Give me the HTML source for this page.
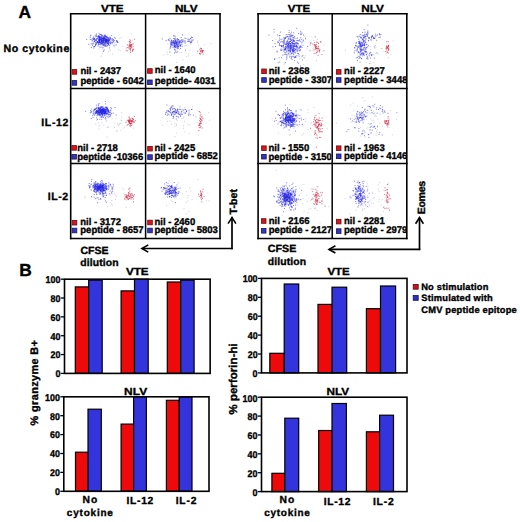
<!DOCTYPE html>
<html><head><meta charset="utf-8"><style>
html,body{margin:0;padding:0;background:#fff;width:520px;height:522px;overflow:hidden}
svg{display:block}
text{font-family:'Liberation Sans',sans-serif;font-weight:bold;fill:#000;stroke:#000;stroke-width:0.35px;text-rendering:geometricPrecision}
</style></head><body>
<svg width="520" height="522" viewBox="0 0 520 522">
<rect width="520" height="522" fill="#fff"/>
<path d="M101.2 41.0h1M104.4 38.4h1M99.2 42.3h1M98.6 39.9h1M106.8 43.4h1M98.4 39.9h1M96.4 39.6h1M104.7 40.5h1M108.4 40.5h1M98.4 40.7h1M101.2 38.7h1M101.3 41.4h1M93.2 47.9h1M112.3 40.3h1M117.0 41.4h1M109.4 36.9h1M103.2 42.2h1M90.7 44.0h1M92.9 38.0h1M102.8 44.8h1M99.0 34.8h1M103.6 38.6h1M105.1 39.2h1M104.6 36.9h1M105.3 44.9h1M86.2 39.4h1M105.6 41.4h1M113.8 40.5h1M104.7 42.8h1M98.4 40.2h1M101.1 41.7h1M101.4 39.5h1M116.2 40.9h1M104.6 35.4h1M95.6 44.3h1M102.5 37.0h1M110.2 42.8h1M98.0 44.7h1M88.3 44.3h1M105.2 46.3h1M99.4 36.7h1M105.3 41.8h1M106.5 40.4h1M104.7 43.2h1M94.6 39.7h1M102.5 40.8h1M98.0 40.7h1M93.2 36.9h1M108.2 43.2h1M92.7 43.8h1M108.3 40.0h1M102.5 47.6h1M107.6 41.4h1M98.9 42.0h1M98.8 37.1h1M102.0 44.2h1M100.0 38.0h1M108.4 42.5h1M105.0 45.2h1M103.0 42.5h1M106.4 39.1h1M99.9 44.7h1M98.7 36.1h1M103.5 38.4h1M96.6 42.0h1M93.8 40.1h1M100.4 39.9h1M95.2 44.4h1M112.2 42.3h1M99.5 37.7h1M97.3 41.5h1M101.4 37.0h1M101.9 41.6h1M94.0 46.7h1M98.0 36.6h1M103.4 40.5h1M98.7 39.4h1M98.8 42.0h1M94.1 46.4h1M100.1 34.4h1M106.7 42.2h1M102.4 39.9h1M103.0 42.1h1M103.9 38.7h1M101.1 41.0h1M107.7 43.5h1M103.5 37.9h1M101.2 41.6h1M104.9 42.0h1M104.2 45.0h1M91.0 47.6h1M99.4 47.1h1M108.5 43.2h1M93.2 39.1h1M95.5 42.8h1M102.6 39.0h1M93.8 39.7h1M102.7 38.9h1M100.8 41.1h1M95.4 35.0h1M95.0 45.4h1M101.4 40.3h1M100.1 40.9h1M97.6 46.1h1M107.7 44.0h1M104.8 41.4h1M104.7 40.4h1M108.9 47.9h1M100.4 42.9h1M108.1 43.2h1M106.1 41.7h1M103.8 46.2h1M106.4 44.7h1M103.0 51.3h1M116.3 40.7h1M108.5 38.5h1M110.2 39.0h1M107.5 45.5h1M102.6 40.4h1M105.7 46.3h1M102.9 36.6h1M105.6 42.7h1M103.6 50.1h1M102.9 44.0h1M98.5 36.2h1M93.6 38.8h1M111.2 35.6h1M103.2 41.3h1M113.8 37.4h1M97.7 43.1h1M99.4 37.6h1M105.7 42.5h1M99.3 44.7h1M106.8 45.6h1M108.1 40.3h1M93.9 38.6h1M104.6 36.4h1M92.0 40.0h1M116.8 42.3h1M109.8 38.0h1M104.6 45.3h1M108.2 41.5h1M103.7 45.0h1M102.0 42.3h1M103.3 38.4h1M100.9 40.6h1M91.8 38.3h1M103.2 38.0h1M108.0 44.2h1M100.2 43.3h1M103.6 44.0h1M99.4 37.7h1M95.8 36.4h1M105.0 36.9h1M109.4 40.8h1M93.0 39.4h1M111.6 40.1h1M105.2 39.9h1M93.3 43.0h1M100.7 34.6h1M101.4 43.6h1M96.6 42.4h1M107.2 42.7h1M95.5 36.4h1M103.1 45.4h1M102.0 38.9h1M105.7 41.1h1M96.0 34.1h1M97.9 42.5h1M98.2 38.6h1M106.6 41.5h1M96.4 38.5h1M98.4 43.4h1M109.0 45.3h1M95.2 44.2h1M89.7 37.6h1M103.0 39.1h1M101.1 40.9h1M102.1 38.4h1M106.5 40.6h1M94.7 40.4h1M106.0 37.0h1M106.1 38.9h1M105.3 42.1h1M111.5 42.5h1M97.9 35.6h1M102.6 39.1h1M110.5 42.9h1M107.7 41.0h1M94.2 38.1h1M90.5 35.2h1M107.4 40.5h1M101.5 41.4h1M106.9 43.4h1M99.1 38.8h1M109.8 43.9h1M98.5 37.3h1M104.6 42.6h1M100.6 47.2h1M103.8 40.4h1M114.8 38.3h1M103.2 38.5h1M113.2 39.9h1M103.1 41.5h1M96.0 43.7h1M117.5 42.5h1M98.5 37.2h1M99.0 40.8h1M101.9 35.4h1M113.3 41.9h1M93.1 46.6h1M99.6 42.6h1M103.9 43.6h1M105.4 41.7h1M94.1 41.3h1M98.9 40.1h1M105.5 41.2h1M104.8 39.8h1M98.8 36.9h1M90.0 35.9h1M101.7 45.9h1M96.0 40.3h1M98.6 42.0h1M113.4 45.5h1M99.6 39.2h1M103.3 38.8h1M97.6 37.0h1M103.9 37.6h1M111.6 39.6h1M99.0 41.2h1M101.8 42.5h1M90.7 39.7h1M101.6 36.1h1M97.4 41.9h1M105.1 36.2h1M97.8 37.1h1M104.1 36.6h1M101.5 44.0h1M100.1 43.3h1M110.0 37.9h1M96.8 38.3h1M99.0 40.9h1M93.7 41.3h1M97.6 43.9h1M115.9 41.1h1M115.5 44.9h1M105.2 35.1h1M103.4 38.7h1M108.1 44.4h1M103.4 39.5h1M117.2 41.9h1M106.1 39.5h1M104.5 38.4h1M102.6 40.4h1M98.5 39.2h1M101.1 40.2h1M100.3 39.5h1M99.7 41.2h1M99.3 42.0h1M98.7 44.0h1M97.2 36.7h1M89.8 39.5h1M99.0 41.7h1M99.7 37.9h1M107.7 39.6h1M107.8 41.2h1M109.0 40.0h1M104.7 38.0h1M100.1 39.9h1M102.9 42.3h1M97.4 42.4h1M93.5 38.9h1M102.3 43.4h1M105.2 41.1h1M92.1 45.3h1M104.4 44.0h1M110.4 41.4h1M97.0 42.1h1M98.1 42.4h1M98.6 41.9h1M98.6 33.3h1M107.0 39.2h1M112.8 41.5h1M94.3 41.6h1M95.6 35.6h1M95.3 40.2h1M103.2 41.5h1M103.9 42.5h1M109.6 39.4h1M107.4 41.4h1M91.8 43.8h1M95.2 42.8h1M101.5 43.7h1M111.7 43.8h1M91.8 40.9h1M99.6 40.1h1M101.3 43.7h1M103.2 37.9h1M113.0 39.8h1M99.2 36.9h1M102.5 38.5h1M108.6 42.1h1M95.7 41.1h1M103.0 37.7h1M99.1 41.2h1M103.6 41.7h1M101.0 43.0h1M104.9 39.7h1M106.4 40.3h1M102.1 38.2h1M104.0 35.3h1M101.1 37.7h1M106.1 41.9h1M102.0 39.1h1M108.3 40.4h1M108.1 39.9h1M105.5 43.5h1M102.3 41.5h1M105.7 37.1h1M109.5 38.4h1M105.8 40.0h1M101.5 39.3h1M106.6 37.6h1M103.8 35.7h1M101.3 35.5h1M101.8 40.2h1M95.7 39.5h1M101.4 39.0h1M104.9 40.6h1M107.1 42.0h1M101.9 41.7h1M106.3 39.8h1M101.8 38.6h1M101.0 41.2h1M102.0 40.3h1M100.9 38.2h1M110.1 43.1h1M106.1 39.9h1M100.5 42.6h1M99.4 39.9h1M104.0 37.0h1M103.1 42.1h1M106.0 36.5h1M107.3 37.6h1M103.1 39.7h1M100.2 42.1h1M103.6 40.6h1M99.0 38.3h1M108.7 39.9h1M102.7 40.1h1M100.6 36.6h1M99.4 39.7h1M105.9 40.9h1M98.7 38.2h1M100.8 43.0h1M100.0 38.8h1M105.0 42.6h1M105.7 41.4h1M108.4 37.6h1M105.5 39.6h1M106.5 38.9h1M107.0 43.3h1M111.7 38.5h1M102.1 41.0h1M108.0 38.7h1M108.1 38.7h1M108.7 39.7h1M106.6 36.3h1M97.0 41.7h1M96.5 42.4h1M99.1 39.3h1M106.4 40.1h1M103.4 40.3h1M102.5 41.3h1M105.4 40.9h1M104.9 39.0h1M100.4 34.7h1M108.5 40.2h1M104.9 40.9h1M101.0 43.8h1M104.5 39.4h1M103.8 39.3h1M95.2 45.8h1M104.6 39.4h1M100.4 39.2h1M100.6 36.8h1M96.6 38.5h1M105.0 39.3h1M105.5 40.4h1M98.6 39.9h1M106.7 37.7h1M101.0 38.0h1M101.7 38.5h1M100.3 37.1h1M106.7 37.8h1M102.9 39.4h1M101.8 41.8h1M102.8 41.1h1M99.2 42.4h1M102.7 44.2h1M106.8 40.1h1M102.5 37.0h1M105.1 40.1h1M107.2 41.0h1M106.2 41.0h1M103.2 40.8h1M101.1 41.4h1M100.9 39.2h1M106.1 40.7h1M103.4 39.9h1" stroke="rgb(40,40,230)" stroke-opacity="0.6" stroke-width="1" fill="none"/>
<path d="M129.6 46.4h1M130.8 45.0h1M129.2 46.2h1M126.9 44.9h1M132.7 43.8h1M130.2 46.3h1M130.2 45.6h1M134.1 39.2h1M129.5 42.5h1M129.9 45.2h1M130.5 45.5h1M130.1 48.9h1M129.3 43.7h1M128.4 48.8h1M130.1 40.8h1M130.8 44.5h1M130.8 46.9h1M132.2 49.8h1M132.6 49.0h1M132.7 46.6h1M130.0 50.8h1M130.2 42.1h1M130.3 46.8h1M127.1 50.9h1M128.6 47.0h1M126.7 47.5h1M130.2 48.0h1M131.6 45.0h1M128.5 47.4h1M130.1 52.5h1M130.4 44.3h1M129.4 39.9h1M125.6 50.7h1M132.9 49.6h1M130.8 44.7h1M129.8 48.9h1M132.1 50.6h1M129.0 41.5h1M129.1 44.7h1M131.2 47.7h1M130.1 45.9h1M128.4 45.9h1M129.6 49.1h1M129.1 45.5h1M131.9 51.4h1" stroke="rgb(205,45,70)" stroke-opacity="0.72" stroke-width="1" fill="none"/>
<path d="M112.3 40.3h1M112.1 54.0h1M128.1 41.6h1M98.7 49.0h1M102.0 53.3h1M109.7 45.8h1M102.7 35.2h1M106.1 46.3h1M109.8 49.7h1M120.7 37.7h1M109.5 50.9h1M119.6 50.6h1M128.6 44.5h1M115.6 45.1h1M131.7 40.0h1M114.0 43.1h1M130.8 33.8h1M111.3 38.8h1M100.7 56.3h1M104.8 42.9h1M113.6 46.6h1M109.5 41.2h1M117.8 49.8h1M93.2 48.7h1M106.8 46.5h1M119.1 38.1h1M91.5 42.3h1M103.8 49.3h1M126.5 49.1h1M94.5 35.9h1M122.3 46.3h1M102.4 48.4h1M129.7 49.0h1M125.8 48.3h1M108.0 51.8h1M115.5 42.5h1M104.1 45.7h1M102.3 41.2h1M109.8 43.7h1M102.1 39.5h1" stroke="rgb(150,150,175)" stroke-opacity="0.45" stroke-width="1" fill="none"/>
<path d="M181.7 46.4h1M177.7 39.6h1M175.3 40.1h1M176.0 42.4h1M174.2 35.9h1M178.5 44.8h1M176.1 42.9h1M168.5 40.5h1M174.3 44.8h1M173.4 38.4h1M178.6 42.0h1M179.8 45.0h1M173.6 46.2h1M173.0 35.8h1M172.9 42.4h1M170.7 42.4h1M174.5 41.3h1M173.6 42.7h1M175.1 43.0h1M172.7 42.4h1M174.0 45.6h1M174.5 45.0h1M173.2 45.7h1M176.5 42.7h1M174.9 43.7h1M179.0 41.1h1M175.3 41.8h1M170.3 44.0h1M169.7 41.8h1M176.7 48.4h1M171.0 40.8h1M171.7 41.3h1M176.3 43.3h1M173.3 43.0h1M172.9 41.9h1M173.3 40.5h1M173.2 41.2h1M177.6 46.0h1M175.4 41.5h1M180.4 44.7h1M174.6 38.6h1M175.3 40.5h1M179.7 42.0h1M174.8 36.9h1M177.7 41.5h1M178.3 44.5h1M173.9 43.0h1M172.3 47.2h1M169.6 38.4h1M174.6 41.3h1M174.3 42.2h1M176.2 41.6h1M175.4 42.9h1M174.4 41.8h1M178.1 39.7h1M170.7 42.4h1M175.0 45.5h1M176.3 45.2h1M177.3 46.0h1M171.7 42.9h1M170.3 47.9h1M182.4 41.4h1M173.7 43.7h1M177.6 47.7h1M173.5 44.1h1M176.5 42.7h1M171.6 41.8h1M176.4 45.1h1M175.4 39.9h1M174.8 42.7h1M177.0 44.9h1M172.6 40.8h1M173.6 47.6h1M177.1 40.2h1M177.8 46.4h1M170.7 40.0h1M174.2 39.7h1M170.2 45.9h1M181.1 40.7h1M173.8 44.6h1M176.1 46.8h1M176.7 42.8h1M170.9 43.7h1M171.2 44.4h1M171.8 45.3h1M179.6 42.8h1M177.6 42.6h1M175.7 44.5h1M175.1 47.5h1M175.1 46.3h1M180.7 42.4h1M176.8 51.8h1M177.9 43.6h1M182.0 34.9h1M174.6 46.8h1M177.3 46.3h1M176.7 39.4h1M174.3 46.7h1M190.1 38.5h1M174.3 46.0h1M174.9 50.1h1M178.7 42.5h1M179.6 46.2h1M180.7 37.6h1M181.0 43.0h1M177.5 44.1h1M177.7 40.2h1M178.0 46.6h1M185.0 50.1h1M170.6 44.6h1M177.9 48.3h1M175.7 52.7h1M181.3 39.7h1M168.6 39.8h1M180.1 46.0h1M182.5 39.8h1M174.0 46.7h1M176.1 43.6h1M179.0 43.2h1M177.0 41.3h1M170.0 43.9h1M177.6 46.7h1M176.3 43.8h1M169.5 48.0h1M177.0 47.8h1M171.3 45.7h1M176.3 44.7h1M169.3 52.0h1M171.2 40.7h1M173.8 49.1h1M180.1 48.5h1M174.1 43.2h1M171.5 42.8h1M181.5 44.7h1M176.7 45.4h1M173.5 38.5h1M170.0 46.4h1M179.4 41.4h1M165.6 40.5h1M175.4 47.7h1M171.3 43.1h1M167.8 39.6h1M179.6 41.2h1M174.2 49.8h1M174.8 40.3h1M172.5 44.0h1M172.6 42.6h1M179.5 45.4h1M179.6 45.8h1M174.0 46.2h1M183.7 41.9h1M175.2 51.9h1M175.1 43.4h1M173.9 43.5h1M174.0 53.0h1M161.8 39.0h1M171.8 44.1h1M176.5 46.5h1M176.9 38.5h1M179.7 40.7h1M191.9 37.5h1M191.3 41.4h1M189.3 41.3h1M189.9 42.2h1M187.2 41.4h1M185.5 38.5h1M191.0 37.2h1M184.3 38.1h1M184.9 43.0h1M182.1 41.0h1M181.5 42.1h1M184.9 41.1h1M190.1 42.8h1M187.8 39.9h1M188.2 41.5h1M189.1 39.3h1M190.6 40.1h1M191.1 42.3h1M190.5 42.2h1M192.6 40.0h1M187.6 39.1h1M188.6 41.1h1M190.5 38.1h1M183.6 40.8h1M178.7 42.4h1" stroke="rgb(40,40,230)" stroke-opacity="0.6" stroke-width="1" fill="none"/>
<path d="M202.5 54.1h1M202.1 52.3h1M202.9 50.7h1M199.2 53.5h1M202.1 51.2h1M201.3 50.0h1M200.5 48.5h1M202.2 51.0h1M199.7 54.7h1M200.7 50.6h1M199.3 53.3h1M200.0 51.6h1M201.1 51.9h1M201.7 51.4h1M201.8 50.7h1M199.8 50.8h1M202.0 50.5h1M199.8 48.2h1M199.4 49.5h1M197.3 51.2h1M200.6 53.1h1M201.0 48.6h1" stroke="rgb(205,45,70)" stroke-opacity="0.72" stroke-width="1" fill="none"/>
<path d="M185.8 45.2h1M182.4 60.0h1M190.6 43.7h1M177.4 51.3h1M188.2 53.9h1M191.9 40.3h1M192.2 40.4h1M179.4 40.0h1M187.7 55.9h1M181.0 52.2h1M176.0 62.4h1M210.5 43.7h1M177.3 46.4h1M179.4 52.4h1M204.4 44.7h1M187.8 39.8h1M168.8 49.1h1M197.2 40.9h1M197.9 44.9h1M192.3 39.9h1M167.3 44.0h1M166.8 52.4h1M183.7 67.0h1M184.2 43.4h1M181.7 42.7h1M189.4 50.1h1M162.8 54.9h1M186.0 56.7h1M179.3 49.6h1M182.1 42.4h1M203.7 51.8h1M185.2 45.8h1M176.6 49.8h1M180.2 42.9h1M184.0 46.0h1M197.1 42.5h1M170.2 55.7h1M184.5 41.9h1M197.1 53.3h1M167.1 54.4h1" stroke="rgb(150,150,175)" stroke-opacity="0.45" stroke-width="1" fill="none"/>
<path d="M107.6 117.1h1M103.6 110.3h1M101.2 116.4h1M100.1 115.6h1M96.1 111.2h1M104.7 113.9h1M105.2 106.8h1M108.3 115.1h1M107.0 109.1h1M108.6 111.2h1M96.0 112.5h1M94.5 109.4h1M104.6 112.0h1M96.2 117.9h1M99.7 109.4h1M99.7 111.5h1M102.4 112.8h1M103.2 110.6h1M98.1 114.0h1M100.8 110.8h1M104.9 112.2h1M96.8 110.6h1M105.5 113.3h1M100.7 117.1h1M101.2 111.4h1M102.8 110.7h1M96.8 113.8h1M104.1 112.4h1M101.1 107.1h1M105.0 103.9h1M105.1 110.4h1M97.0 108.0h1M102.8 117.4h1M107.7 109.9h1M102.4 109.5h1M104.3 109.7h1M99.1 115.8h1M96.8 109.6h1M106.0 107.5h1M90.2 110.6h1M97.1 113.7h1M106.2 111.8h1M108.7 116.9h1M99.7 109.3h1M104.4 107.6h1M95.0 113.0h1M108.0 111.0h1M106.2 114.2h1M96.9 119.5h1M96.4 113.1h1M102.4 106.6h1M108.8 114.5h1M108.1 110.5h1M99.3 119.2h1M107.4 113.6h1M103.8 115.9h1M92.3 115.6h1M107.0 113.7h1M100.9 113.5h1M106.0 108.3h1M97.5 115.0h1M99.7 112.3h1M100.8 112.7h1M110.2 115.9h1M102.4 109.4h1M112.8 113.1h1M105.2 113.1h1M105.7 108.7h1M92.6 113.8h1M107.8 110.1h1M103.3 111.5h1M93.2 111.2h1M105.1 109.1h1M98.4 110.0h1M100.6 107.8h1M108.2 111.9h1M105.0 117.4h1M98.7 112.4h1M107.8 111.3h1M103.3 113.9h1M101.2 119.3h1M102.1 111.2h1M100.0 109.2h1M93.1 113.8h1M100.3 114.5h1M110.3 109.9h1M105.9 107.5h1M110.4 110.9h1M101.4 109.3h1M97.9 104.7h1M93.6 109.6h1M104.3 115.3h1M92.8 110.8h1M97.5 111.6h1M107.8 111.9h1M109.3 116.4h1M92.5 117.6h1M110.6 113.3h1M97.8 107.3h1M107.8 113.0h1M96.9 111.8h1M107.9 114.5h1M90.8 118.6h1M102.0 115.2h1M99.9 110.5h1M102.9 113.2h1M107.1 107.6h1M104.8 113.9h1M100.5 111.0h1M104.8 112.9h1M102.2 109.6h1M101.4 110.1h1M96.0 108.3h1M99.3 110.4h1M97.4 112.4h1M99.3 114.5h1M104.5 111.0h1M93.9 115.2h1M109.9 114.9h1M107.8 109.7h1M106.9 110.6h1M104.8 101.6h1M95.5 111.9h1M109.6 110.8h1M96.0 111.8h1M98.5 103.5h1M95.4 111.7h1M99.9 111.9h1M105.4 107.5h1M95.6 108.3h1M103.6 108.9h1M97.8 110.9h1M94.0 110.2h1M98.2 111.1h1M101.2 112.9h1M95.2 113.8h1M96.5 115.6h1M96.9 114.3h1M103.5 115.8h1M102.3 114.2h1M94.4 113.8h1M97.6 111.7h1M93.8 109.6h1M102.1 113.6h1M104.9 109.9h1M95.6 110.4h1M96.7 111.7h1M106.5 116.2h1M95.9 105.1h1M90.8 111.8h1M85.2 111.3h1M103.8 114.4h1M102.2 108.7h1M90.9 109.1h1M102.0 113.2h1M109.1 112.7h1M105.3 111.3h1M95.7 111.7h1M91.3 111.9h1M107.0 109.4h1M89.7 112.8h1M97.1 112.8h1M93.5 112.4h1M102.4 117.3h1M100.1 112.8h1M97.8 105.6h1M114.6 107.5h1M115.7 115.0h1M110.9 108.3h1M109.7 112.5h1M105.3 118.6h1M101.2 113.1h1M94.3 109.2h1M96.0 111.2h1M109.5 114.4h1M108.7 112.4h1M106.5 114.2h1M97.9 110.7h1M101.6 109.5h1M105.2 109.7h1M99.2 108.7h1M100.5 113.2h1M100.1 111.3h1M96.0 112.5h1M100.4 114.3h1M90.2 112.2h1M102.8 109.4h1M95.1 109.3h1M100.2 107.6h1M104.3 112.8h1M102.5 109.6h1M99.8 111.5h1M97.5 110.6h1M102.4 112.2h1M102.0 115.9h1M101.5 111.2h1M96.5 111.7h1M94.8 108.7h1M105.1 113.3h1M107.0 108.7h1M104.0 113.5h1M100.8 112.2h1M98.7 112.7h1M98.3 107.8h1M100.6 117.2h1M98.9 113.4h1M99.2 112.6h1M100.0 108.3h1M102.6 111.5h1M100.4 112.7h1M94.7 112.9h1M101.3 112.7h1M99.4 112.1h1M98.7 112.6h1M106.1 113.5h1M98.4 108.8h1M100.1 111.8h1M101.7 107.2h1M106.0 109.3h1M103.9 112.5h1M101.7 110.8h1M101.3 113.2h1M102.2 110.9h1M101.3 114.1h1M104.7 111.4h1M101.7 109.1h1M101.9 109.8h1M101.6 110.2h1M98.1 108.7h1M104.4 111.9h1M98.8 114.9h1M105.0 112.2h1M103.4 111.3h1M103.2 111.1h1M98.6 110.7h1M100.9 109.8h1M95.7 112.0h1M105.5 114.9h1M103.6 112.0h1M102.6 113.8h1M100.7 113.4h1M104.5 111.9h1M103.6 111.3h1M99.8 109.2h1M101.3 111.4h1M102.1 110.4h1M101.0 109.4h1M103.0 110.6h1M101.4 111.8h1M106.1 110.2h1M101.0 112.3h1M104.3 110.1h1M104.5 112.9h1M98.1 114.1h1M107.1 112.6h1M102.9 110.8h1M99.8 108.4h1M102.3 107.3h1M97.5 111.9h1M99.1 110.2h1M104.7 113.2h1M99.1 111.0h1M101.1 107.2h1M98.9 111.2h1M96.8 111.1h1M100.1 114.8h1M99.3 108.7h1M101.0 110.9h1M98.1 108.1h1M99.0 108.0h1M104.2 113.0h1M100.4 106.6h1M103.9 112.0h1M102.2 112.8h1M100.0 109.7h1M106.3 109.9h1M99.7 107.2h1M102.5 110.9h1M97.9 112.6h1M100.9 107.0h1M103.0 113.5h1M103.7 110.5h1M105.2 111.9h1M102.4 111.8h1M98.4 113.1h1M98.1 108.2h1M101.5 112.9h1M102.9 110.9h1M100.6 110.7h1M102.1 110.3h1M103.4 109.9h1M106.1 110.1h1M102.3 110.0h1M99.8 108.7h1M98.7 112.8h1M96.0 110.4h1M107.9 111.3h1M100.5 111.3h1M96.2 107.3h1M102.4 112.4h1M102.5 112.1h1M99.9 111.2h1M107.1 108.5h1M104.7 109.5h1M97.5 112.2h1M98.6 112.7h1M105.7 112.3h1M99.9 110.8h1M103.5 113.2h1M110.2 107.6h1M101.3 109.6h1M98.5 115.3h1M101.5 114.0h1M101.5 109.7h1M104.2 110.6h1M107.0 111.1h1M97.9 110.8h1M106.9 108.8h1M104.7 111.8h1M105.3 111.4h1M101.1 109.4h1M100.2 110.8h1M102.8 113.0h1M101.8 114.5h1M102.5 109.6h1M103.6 109.7h1M104.5 108.6h1M96.5 111.3h1M102.5 109.9h1M104.4 110.2h1M111.2 113.7h1M106.7 111.2h1M102.5 111.4h1M103.0 108.3h1M106.4 107.1h1M97.9 108.7h1M99.8 112.8h1M100.0 110.2h1M98.3 107.9h1M95.6 112.7h1M102.2 109.8h1M104.5 112.0h1M98.5 109.8h1M104.6 113.9h1M100.7 113.1h1M105.8 113.3h1M102.0 112.6h1M104.3 110.2h1M102.4 110.7h1M97.4 111.2h1M101.0 109.2h1M103.9 113.5h1M104.0 110.2h1M98.1 112.9h1M99.2 113.6h1M100.3 111.9h1M100.9 111.4h1M105.0 112.3h1M98.9 114.3h1M104.8 111.9h1M98.7 109.7h1M98.9 109.5h1M104.2 111.0h1M100.7 111.3h1M102.4 108.8h1M103.5 111.1h1M99.5 110.9h1M95.6 113.5h1M102.2 112.4h1M99.9 112.2h1M102.6 108.2h1M101.5 115.1h1M102.1 112.0h1M104.0 113.6h1M102.7 108.2h1M103.7 113.0h1M103.9 108.7h1M102.2 110.2h1M102.6 110.1h1M105.6 111.7h1" stroke="rgb(40,40,230)" stroke-opacity="0.6" stroke-width="1" fill="none"/>
<path d="M128.5 119.2h1M128.9 121.9h1M128.1 120.7h1M131.4 121.8h1M127.8 124.3h1M134.9 120.7h1M128.5 120.9h1M132.0 118.6h1M131.3 121.4h1M132.4 121.8h1M129.2 120.5h1M130.9 121.2h1M128.5 116.9h1M130.4 120.3h1M133.4 121.2h1M133.2 121.7h1M131.2 121.3h1M130.3 123.5h1M128.9 122.0h1M132.8 119.3h1M129.2 123.3h1M130.8 123.0h1M129.8 123.8h1M129.8 121.0h1M126.9 120.3h1M130.1 125.0h1M129.7 126.7h1M128.3 121.8h1M131.9 120.5h1M129.1 122.8h1M131.2 123.1h1M133.6 122.5h1M132.8 119.2h1M128.3 122.0h1M129.8 123.0h1M129.6 123.7h1M128.8 121.8h1M127.9 121.4h1M131.5 124.1h1M132.5 119.6h1M128.7 121.4h1M129.7 120.1h1M130.8 120.3h1M131.1 125.5h1M130.4 123.6h1M129.4 119.7h1M126.9 124.9h1M133.8 116.5h1M128.4 121.0h1M128.4 120.5h1M131.4 121.4h1M131.5 118.2h1M129.4 125.7h1M128.9 118.0h1M129.0 121.7h1M125.5 122.4h1M131.3 120.7h1M129.7 121.4h1M129.6 118.8h1M128.9 123.0h1" stroke="rgb(205,45,70)" stroke-opacity="0.72" stroke-width="1" fill="none"/>
<path d="M117.7 125.8h1M98.6 126.3h1M120.5 130.4h1M117.5 124.2h1M108.4 127.0h1M121.3 112.6h1M99.3 124.8h1M121.2 117.0h1M94.1 114.8h1M124.4 127.0h1M106.5 137.0h1M132.9 128.1h1M113.6 123.1h1M120.7 120.1h1M120.9 120.7h1M120.4 123.4h1M116.0 130.6h1M119.1 123.4h1M106.3 120.4h1M98.5 129.0h1M111.7 118.2h1M125.8 120.9h1M126.2 125.5h1M118.7 124.8h1M98.0 122.9h1M105.2 119.3h1M115.6 118.1h1M96.2 120.2h1M95.2 123.9h1M116.8 124.1h1M106.7 127.3h1M116.6 131.2h1M103.3 125.1h1M105.8 121.4h1M107.5 127.2h1M103.8 118.7h1M128.7 124.7h1M114.0 127.5h1M122.9 128.1h1M101.4 122.7h1" stroke="rgb(150,150,175)" stroke-opacity="0.45" stroke-width="1" fill="none"/>
<path d="M177.3 113.3h1M178.1 117.1h1M169.3 111.9h1M170.1 110.4h1M172.5 113.0h1M174.9 109.7h1M173.2 111.8h1M170.1 112.7h1M167.7 111.3h1M173.3 117.2h1M173.0 111.7h1M176.9 110.3h1M172.5 118.4h1M178.3 114.5h1M177.2 109.8h1M177.2 111.7h1M174.5 112.5h1M174.6 111.4h1M166.4 105.0h1M166.2 111.8h1M170.5 107.5h1M177.9 113.5h1M169.9 108.7h1M175.7 112.5h1M168.3 111.5h1M166.7 115.4h1M172.0 112.6h1M169.5 108.7h1M172.1 109.6h1M166.2 112.8h1M171.7 108.4h1M174.2 111.7h1M171.2 107.3h1M172.5 106.1h1M168.4 114.9h1M174.1 108.4h1M169.2 111.9h1M175.9 112.2h1M172.5 114.2h1M177.5 109.1h1M171.1 114.6h1M174.8 109.2h1M165.0 114.4h1M171.8 112.3h1M171.1 114.3h1M176.6 116.4h1M167.9 110.6h1M175.7 112.1h1M172.6 116.5h1M173.1 108.6h1M179.8 115.3h1M173.6 113.9h1M175.3 112.8h1M176.0 112.5h1M175.8 119.0h1M172.2 105.8h1M179.1 114.6h1M170.7 113.3h1M167.4 114.1h1M164.9 112.9h1M178.3 112.1h1M175.0 114.0h1M166.6 110.5h1M179.5 113.7h1M181.8 114.1h1M171.8 111.8h1M170.8 106.2h1M172.8 116.2h1M169.9 109.6h1M171.0 115.4h1M177.7 111.8h1M175.9 116.3h1M173.5 111.7h1M176.3 110.8h1M174.1 114.8h1M180.0 116.3h1M175.2 110.5h1M176.2 113.0h1M180.6 114.0h1M173.7 111.1h1M185.1 112.9h1M180.2 109.7h1M179.5 106.8h1M188.6 110.3h1M183.5 112.3h1M181.7 109.8h1M184.6 109.4h1M181.4 114.4h1M188.2 114.1h1M179.1 109.3h1M189.7 114.7h1M181.1 112.0h1M192.9 115.1h1M184.8 109.7h1M176.9 109.2h1M186.0 111.6h1M184.5 113.6h1M191.3 109.7h1M186.0 111.5h1M185.9 110.4h1M188.2 115.3h1M183.0 110.1h1M191.2 109.4h1M188.7 112.1h1M181.3 111.6h1" stroke="rgb(40,40,230)" stroke-opacity="0.6" stroke-width="1" fill="none"/>
<path d="M199.4 124.2h1M200.3 121.7h1M200.0 123.3h1M200.4 114.2h1M199.5 125.6h1M199.6 127.7h1M199.1 120.7h1M199.7 115.7h1M202.4 118.4h1M199.7 112.3h1M200.0 118.6h1M200.6 123.5h1M201.5 120.8h1M200.0 121.6h1M200.0 119.4h1M199.4 127.6h1M200.7 116.9h1M199.9 123.0h1M198.3 125.4h1M198.7 124.4h1M200.9 119.8h1M200.5 126.6h1M199.0 125.2h1M201.7 128.0h1M198.8 111.5h1M199.3 118.1h1M201.3 120.0h1M201.7 116.8h1M199.0 123.3h1M198.4 130.7h1" stroke="rgb(205,45,70)" stroke-opacity="0.72" stroke-width="1" fill="none"/>
<path d="M174.5 123.9h1M188.7 133.5h1M209.1 120.2h1M189.4 124.7h1M183.0 128.3h1M167.6 113.4h1M167.1 121.4h1M201.1 122.7h1M180.9 118.4h1M200.9 117.9h1M176.8 120.7h1M161.8 118.0h1M183.3 116.8h1M174.5 136.6h1M198.1 127.0h1M197.3 111.1h1M182.8 118.3h1M183.1 125.8h1M183.9 131.8h1M184.0 121.3h1M196.7 122.7h1M171.1 124.2h1M176.3 133.1h1M208.2 112.7h1M195.9 117.2h1M161.8 125.3h1M197.7 134.9h1M189.1 113.7h1M199.7 120.2h1M187.5 124.9h1M175.9 125.5h1M184.4 107.7h1M192.0 106.9h1M176.0 124.3h1M174.3 126.7h1M169.5 121.1h1M194.8 116.2h1M177.7 118.0h1M170.6 115.5h1M179.1 112.2h1" stroke="rgb(150,150,175)" stroke-opacity="0.45" stroke-width="1" fill="none"/>
<path d="M103.8 190.3h1M99.9 189.9h1M108.1 186.3h1M112.8 186.1h1M99.8 190.5h1M94.9 187.8h1M98.5 188.5h1M110.2 185.8h1M95.9 186.3h1M94.9 185.6h1M94.1 191.0h1M100.3 190.8h1M104.6 184.1h1M102.0 190.6h1M97.3 187.6h1M100.0 183.8h1M97.3 189.8h1M101.9 189.9h1M94.3 186.0h1M105.8 183.8h1M99.6 184.1h1M101.0 191.2h1M108.1 185.2h1M100.2 181.8h1M102.7 186.2h1M112.8 184.3h1M94.4 185.5h1M105.5 183.6h1M105.5 186.3h1M104.6 185.9h1M94.5 188.9h1M99.4 187.5h1M101.9 193.8h1M111.8 189.9h1M106.0 186.8h1M109.6 184.3h1M93.4 191.1h1M102.0 191.0h1M102.7 190.4h1M108.2 187.8h1M99.4 189.1h1M108.3 182.9h1M102.2 188.0h1M101.7 185.6h1M102.6 191.4h1M96.1 194.2h1M103.5 190.5h1M104.9 192.3h1M94.2 187.8h1M106.4 186.0h1M89.6 187.0h1M90.5 184.1h1M95.1 183.9h1M97.8 187.6h1M90.8 184.4h1M100.8 180.5h1M100.1 193.9h1M101.0 188.4h1M104.1 188.7h1M102.0 193.2h1M89.3 187.0h1M98.5 189.2h1M99.7 189.8h1M102.0 181.1h1M93.8 186.6h1M92.7 185.8h1M105.5 183.4h1M94.4 188.8h1M97.3 188.2h1M109.6 191.0h1M97.3 188.5h1M101.7 188.2h1M94.0 189.3h1M108.5 185.9h1M94.5 189.9h1M103.7 188.4h1M93.7 189.1h1M95.1 181.7h1M97.0 190.1h1M103.3 190.0h1M104.3 193.4h1M93.6 184.0h1M106.2 189.7h1M98.3 186.1h1M99.0 187.7h1M96.0 184.5h1M99.5 187.3h1M95.5 186.9h1M102.5 196.9h1M92.0 186.8h1M88.9 187.6h1M103.7 191.1h1M99.5 186.2h1M104.4 190.9h1M89.6 186.0h1M98.0 186.2h1M95.6 192.7h1M103.0 190.3h1M97.3 191.5h1M99.8 186.3h1M90.5 189.8h1M94.5 182.7h1M104.5 185.3h1M99.7 190.5h1M88.8 186.2h1M98.7 193.1h1M100.3 190.2h1M105.7 189.3h1M102.6 185.2h1M98.8 187.0h1M97.9 191.2h1M104.9 188.4h1M101.5 186.8h1M102.3 184.0h1M100.9 189.9h1M97.0 184.4h1M94.9 192.2h1M88.4 185.4h1M97.2 190.5h1M102.8 185.9h1M101.4 182.9h1M96.4 184.4h1M102.8 186.8h1M111.2 187.0h1M100.3 188.2h1M112.2 188.6h1M91.0 181.3h1M103.1 190.3h1M97.9 189.0h1M105.3 193.6h1M94.9 187.5h1M93.3 190.1h1M98.9 185.0h1M104.4 189.8h1M99.4 189.7h1M88.7 183.5h1M98.9 187.4h1M108.7 193.8h1M105.8 187.9h1M96.3 188.4h1M95.4 181.8h1M93.1 185.2h1M111.4 189.0h1M99.0 187.6h1M95.9 192.0h1M103.2 193.3h1M94.5 184.9h1M109.9 184.4h1M99.3 189.4h1M97.4 183.2h1M99.6 191.0h1M102.5 186.7h1M111.1 192.7h1M104.3 188.3h1M106.5 188.8h1M99.2 185.9h1M105.0 190.8h1M102.1 191.9h1M96.6 188.8h1M102.3 186.0h1M99.0 187.6h1M102.9 186.8h1M91.3 179.6h1M102.0 192.6h1M111.7 191.5h1M95.9 183.8h1M105.7 189.0h1M97.0 186.5h1M100.7 184.2h1M103.1 194.0h1M98.0 186.1h1M95.7 191.3h1M96.8 185.3h1M99.5 187.0h1M100.8 189.3h1M97.1 183.4h1M98.4 183.8h1M97.1 190.9h1M97.8 188.6h1M101.6 186.6h1M98.7 192.7h1M102.1 187.1h1M101.0 185.8h1M102.7 187.4h1M104.9 188.1h1M100.2 193.6h1M98.8 189.4h1M96.3 194.3h1M94.5 186.6h1M98.1 187.3h1M92.6 185.7h1M104.0 188.2h1M106.3 186.8h1M99.8 192.1h1M99.1 188.5h1M105.4 187.5h1M95.4 188.3h1M102.4 185.5h1M97.4 190.6h1M112.2 187.6h1M106.6 188.9h1M98.1 186.9h1M97.3 189.9h1M104.7 186.3h1M97.6 189.2h1M100.2 185.1h1M98.5 187.4h1M100.4 188.3h1M100.4 190.2h1M96.1 186.9h1M97.8 187.1h1M101.8 189.7h1M101.6 187.3h1M97.5 187.3h1M107.9 189.4h1M100.7 184.3h1M98.9 186.9h1M93.8 191.6h1M94.6 187.9h1M104.5 186.8h1M102.6 191.1h1M99.4 186.2h1M102.3 187.9h1M97.4 188.1h1M97.0 188.9h1M101.1 191.2h1M94.6 184.0h1M98.1 186.7h1M102.0 188.1h1M93.5 186.4h1M102.6 183.8h1M99.9 185.3h1M98.4 188.3h1M105.2 187.7h1M97.7 186.6h1M100.1 187.8h1M97.3 187.8h1M100.3 187.0h1M96.0 187.7h1M98.5 186.5h1M97.6 186.8h1M97.8 188.3h1M101.3 185.6h1M103.2 187.7h1M100.5 186.8h1M102.2 185.3h1M99.5 184.6h1M102.8 187.9h1M102.1 185.1h1M99.8 185.0h1M95.2 189.8h1M103.7 190.1h1M101.4 185.7h1M95.4 185.9h1M101.5 187.6h1M100.5 186.1h1M95.0 189.2h1M99.2 186.9h1M97.8 188.3h1M96.6 188.1h1M95.9 189.9h1M95.1 187.9h1M100.3 189.0h1M95.3 188.0h1M94.6 188.9h1M98.0 188.5h1M98.4 189.4h1M102.7 185.1h1M101.2 192.0h1M103.1 185.8h1M93.2 187.1h1M97.6 185.3h1M103.4 188.1h1M101.5 185.9h1M102.5 186.9h1M94.5 189.0h1M97.7 188.0h1M98.6 187.0h1M103.1 189.1h1M98.0 187.3h1M99.1 187.7h1M103.4 184.7h1M102.2 188.3h1M99.7 190.1h1M95.5 187.3h1M102.3 185.7h1M95.0 186.2h1M100.2 190.4h1M103.6 186.4h1M102.0 186.7h1M97.9 189.6h1M103.2 188.3h1M103.0 189.0h1M100.2 187.4h1M99.3 187.8h1M98.0 188.9h1M101.4 187.5h1M96.9 186.1h1M98.4 185.9h1M98.5 185.0h1M100.0 186.0h1M98.4 187.5h1M98.0 189.4h1M103.0 183.9h1M99.4 186.0h1M95.2 189.2h1M105.5 184.9h1M97.6 188.7h1M99.5 185.4h1M101.4 185.9h1M101.5 188.9h1M94.8 186.6h1M93.5 190.9h1M101.6 188.9h1M100.2 188.5h1M104.1 184.4h1M103.5 186.8h1M100.5 187.6h1M100.1 191.9h1M95.8 191.3h1M98.9 187.9h1M100.7 184.7h1M96.1 186.4h1M99.0 186.4h1M97.8 189.0h1M102.8 189.3h1M97.9 187.2h1M100.5 186.9h1M98.1 188.3h1M99.8 186.4h1M105.0 188.8h1M96.1 189.7h1M98.1 184.0h1M96.3 190.2h1M93.7 187.1h1M99.3 188.4h1M95.0 184.4h1M98.1 189.6h1M98.4 187.1h1M95.5 185.4h1M99.4 187.8h1M97.8 189.1h1M98.0 186.8h1M106.0 188.6h1M96.4 186.9h1M99.9 186.7h1M97.1 184.4h1M97.0 188.6h1M101.3 187.0h1M97.1 185.9h1M95.0 187.5h1M95.4 186.2h1M99.6 190.5h1M97.3 188.0h1M102.5 190.0h1M105.3 185.8h1M101.6 183.0h1M103.5 187.1h1M99.4 186.8h1M101.1 187.7h1M94.1 184.4h1M92.6 188.1h1M101.2 190.1h1M98.5 186.8h1M97.7 190.2h1M94.7 187.0h1M93.6 187.4h1M96.1 186.2h1M102.8 184.4h1M93.5 183.0h1M95.8 189.8h1M93.8 194.6h1M98.4 199.3h1M97.3 188.0h1M105.9 189.4h1M95.6 188.9h1M103.3 195.9h1M100.3 199.5h1M93.6 197.2h1M105.2 192.2h1M104.7 197.5h1M98.1 188.5h1M105.9 202.3h1M103.3 189.3h1M93.3 185.5h1M100.6 191.7h1M105.8 195.5h1M106.1 195.1h1M102.0 189.9h1M103.0 196.3h1M102.0 195.1h1M96.4 198.0h1M102.8 193.8h1M97.1 202.7h1M95.0 198.7h1M105.0 200.9h1M91.0 196.7h1M97.5 197.8h1M100.0 198.5h1M99.4 194.3h1" stroke="rgb(40,40,230)" stroke-opacity="0.6" stroke-width="1" fill="none"/>
<path d="M127.8 199.5h1M130.5 195.0h1M133.0 201.8h1M128.5 193.8h1M131.5 197.7h1M129.6 197.5h1M127.8 198.9h1M128.2 189.2h1M129.0 198.5h1M129.6 198.2h1M128.5 193.0h1M130.7 199.1h1M126.5 198.5h1M129.3 191.1h1M130.7 193.5h1M129.1 188.3h1M132.6 195.4h1M130.2 195.2h1M125.8 196.7h1M125.4 197.4h1M131.7 195.5h1M124.5 199.4h1M125.5 196.1h1M129.3 196.5h1M124.2 198.3h1M126.5 196.2h1M132.8 199.1h1M128.0 195.6h1M132.9 196.5h1M124.4 194.9h1M128.6 196.1h1M128.4 194.1h1M128.0 192.5h1M130.0 194.4h1M126.3 197.6h1M126.5 197.1h1M131.1 197.3h1M127.3 197.5h1M126.6 195.4h1M127.9 195.0h1M125.7 194.8h1M133.9 194.8h1M131.8 194.1h1M128.5 196.3h1M125.9 196.6h1M132.1 197.7h1M125.8 196.8h1M130.4 196.5h1M126.7 196.0h1M127.5 199.1h1" stroke="rgb(205,45,70)" stroke-opacity="0.72" stroke-width="1" fill="none"/>
<path d="M129.6 187.8h1M115.0 199.4h1M95.2 189.5h1M102.5 192.2h1M104.1 188.8h1M83.9 198.1h1M107.0 206.7h1M103.1 186.5h1M103.8 199.2h1M104.4 187.8h1M115.8 196.4h1M109.2 193.8h1M104.2 195.2h1M106.1 190.3h1M101.7 191.1h1M111.4 193.5h1M128.5 193.5h1M114.8 195.1h1M84.8 196.8h1M109.7 195.2h1M112.3 191.6h1M111.9 205.3h1M89.0 188.6h1M111.0 193.8h1M95.3 187.5h1M91.0 190.6h1M105.4 188.0h1M122.2 188.2h1M109.7 202.8h1M123.4 189.5h1M114.0 193.2h1M111.4 200.5h1M103.3 192.7h1M126.2 200.1h1M102.4 195.8h1M112.4 194.8h1M99.9 183.1h1M109.3 188.3h1M111.2 203.7h1M125.6 207.5h1" stroke="rgb(150,150,175)" stroke-opacity="0.45" stroke-width="1" fill="none"/>
<path d="M167.3 189.3h1M161.5 191.3h1M175.6 195.0h1M172.8 193.0h1M171.1 195.7h1M168.9 188.3h1M164.1 188.6h1M174.8 192.5h1M167.1 194.5h1M175.4 186.7h1M164.9 194.2h1M171.2 186.6h1M172.2 190.2h1M167.7 194.8h1M165.9 182.7h1M174.8 187.9h1M167.4 191.6h1M173.8 190.3h1M171.0 191.3h1M177.2 195.1h1M169.7 193.5h1M173.7 190.4h1M173.6 189.0h1M176.4 185.0h1M163.0 187.8h1M169.7 192.9h1M171.6 185.4h1M174.9 189.9h1M172.0 190.4h1M173.5 190.5h1M167.5 183.2h1M174.4 188.1h1M171.3 187.2h1M169.7 188.7h1M175.2 196.1h1M164.1 187.9h1M173.1 191.9h1M170.4 186.6h1M174.7 195.4h1M168.2 189.5h1M171.0 195.4h1M174.5 191.1h1M171.9 195.6h1M168.8 185.7h1M164.8 192.4h1M169.4 196.6h1M179.7 188.1h1M168.3 189.8h1M170.5 189.9h1M170.9 187.9h1M171.8 190.2h1M174.7 190.0h1M169.0 194.4h1M178.6 191.7h1M166.9 191.5h1M174.7 194.4h1M171.6 192.1h1M169.7 190.7h1M168.0 193.3h1M172.5 188.4h1M169.6 187.9h1M169.4 193.0h1M169.6 191.0h1M163.2 187.8h1M166.5 192.2h1M166.4 188.6h1M171.7 191.0h1M169.0 196.9h1M175.9 192.5h1M171.2 190.9h1M174.4 195.3h1M175.2 192.1h1M170.8 185.8h1M164.4 193.7h1M168.5 189.5h1M173.4 197.1h1M171.6 193.8h1M170.9 186.3h1M169.1 191.8h1M174.9 192.2h1M166.6 185.6h1M174.1 193.2h1M175.5 196.9h1M167.3 192.3h1M170.9 186.1h1M177.6 192.0h1M175.8 193.0h1M163.6 188.0h1M174.4 187.5h1M169.2 190.9h1M169.2 196.5h1M166.4 194.1h1M168.9 191.6h1M162.6 189.7h1M174.9 188.6h1M175.0 202.6h1M168.3 192.1h1M170.5 193.1h1M174.7 192.1h1M164.7 193.8h1M169.9 186.5h1M173.5 190.5h1M160.9 187.6h1M173.3 191.4h1M172.4 192.6h1M165.7 190.1h1M174.6 191.1h1M173.4 190.4h1M175.7 194.1h1M173.7 187.2h1M168.8 193.8h1M173.8 189.6h1M175.6 189.2h1M171.2 192.8h1M166.7 187.1h1M168.4 189.1h1M165.9 192.3h1M169.6 190.8h1M169.7 188.6h1M173.9 189.3h1M164.7 188.6h1M169.1 189.6h1M160.7 187.8h1M169.4 190.7h1M175.2 188.5h1M167.0 197.0h1M172.4 196.0h1M170.2 192.7h1M172.1 195.2h1M171.0 187.7h1M175.3 189.5h1M165.7 190.4h1M164.8 188.0h1M177.5 188.6h1M177.6 193.1h1M173.4 196.1h1M173.3 191.8h1M169.4 192.0h1M168.0 186.5h1M164.1 184.0h1M175.4 193.1h1M173.2 193.1h1M165.6 192.8h1M170.4 186.6h1M171.6 187.5h1M169.0 193.6h1M175.8 187.9h1M167.3 190.4h1M168.2 191.5h1M170.4 190.5h1M173.5 190.2h1M170.9 197.5h1M174.8 193.3h1M171.4 192.8h1M171.8 192.9h1M165.3 194.0h1M176.2 189.8h1M169.9 193.4h1M170.9 193.8h1M172.3 188.1h1M171.6 186.9h1M175.0 191.7h1M165.5 191.4h1M171.1 193.6h1M173.4 196.5h1M177.8 193.5h1M165.6 188.2h1M166.3 193.1h1M168.5 185.8h1M173.8 182.5h1" stroke="rgb(40,40,230)" stroke-opacity="0.6" stroke-width="1" fill="none"/>
<path d="M201.1 195.6h1M201.4 197.4h1M200.4 195.6h1M199.9 191.5h1M201.0 193.6h1M198.1 194.3h1M200.6 193.1h1M203.7 196.6h1M200.4 193.0h1M202.5 189.3h1M201.9 198.5h1M201.1 195.3h1M198.7 196.3h1M201.1 199.6h1M200.4 190.8h1M202.2 191.8h1M201.3 194.4h1M201.4 201.9h1M200.4 194.5h1M200.3 198.0h1M200.9 196.6h1M200.0 195.5h1" stroke="rgb(205,45,70)" stroke-opacity="0.72" stroke-width="1" fill="none"/>
<path d="M206.1 200.3h1M187.1 197.8h1M207.3 193.1h1M188.5 211.3h1M190.2 191.0h1M185.7 191.4h1M189.3 187.9h1M185.7 213.4h1M170.8 200.8h1M166.1 205.3h1M197.3 179.7h1M164.1 189.0h1M179.5 192.5h1M166.5 191.5h1M183.5 208.8h1M178.0 182.8h1M173.2 190.5h1M173.3 190.7h1M172.5 192.3h1M185.8 202.3h1M177.0 193.5h1M181.9 194.0h1M187.5 200.9h1M187.8 195.5h1M168.7 196.2h1M168.7 180.7h1M172.3 201.5h1M191.6 199.4h1M208.5 200.9h1" stroke="rgb(150,150,175)" stroke-opacity="0.45" stroke-width="1" fill="none"/>
<path d="M290.5 35.3h1M299.0 40.0h1M301.3 42.8h1M293.7 51.3h1M283.3 51.2h1M291.0 36.1h1M280.8 50.6h1M292.3 45.1h1M293.7 50.3h1M295.2 57.0h1M292.0 42.0h1M296.4 48.9h1M293.1 54.6h1M296.8 43.6h1M281.3 41.9h1M303.6 57.9h1M293.7 50.5h1M283.2 41.6h1M295.3 46.6h1M286.9 40.7h1M300.0 49.6h1M293.6 48.5h1M300.0 66.0h1M283.3 42.4h1M288.6 36.9h1M293.8 43.8h1M288.1 54.0h1M289.4 56.0h1M288.5 47.5h1M286.4 46.2h1M289.3 35.1h1M289.2 41.6h1M285.7 46.8h1M289.8 45.9h1M296.3 28.3h1M294.2 36.5h1M284.2 41.3h1M282.6 42.8h1M284.3 52.4h1M291.6 47.9h1M284.9 62.7h1M278.7 35.8h1M287.5 34.6h1M280.7 45.8h1M292.7 46.6h1M296.8 46.7h1M293.6 47.0h1M302.3 55.6h1M288.4 50.7h1M293.2 37.4h1M287.5 50.7h1M293.0 43.5h1M296.4 47.9h1M286.5 36.2h1M295.7 50.0h1M280.0 42.0h1M287.5 39.0h1M289.9 38.0h1M292.5 48.5h1M296.9 53.3h1M294.5 46.5h1M302.5 45.2h1M287.0 45.9h1M286.6 49.3h1M289.5 54.1h1M292.3 43.6h1M287.5 43.3h1M294.6 52.6h1M291.6 40.9h1M279.4 35.5h1M284.2 42.9h1M286.3 56.7h1M285.3 37.2h1M284.8 37.9h1M272.4 46.8h1M291.5 47.4h1M275.1 46.6h1M276.6 52.0h1M282.7 49.8h1M288.7 30.4h1M282.8 45.9h1M296.1 43.7h1M283.6 40.2h1M287.9 44.7h1M284.3 38.4h1M300.2 37.7h1M285.0 38.6h1M289.6 41.4h1M299.8 47.2h1M284.5 50.3h1M292.3 49.7h1M283.5 43.4h1M297.9 43.5h1M287.7 51.8h1M301.5 47.5h1M300.8 46.2h1M293.1 47.5h1M289.7 51.6h1M294.5 50.9h1M292.0 46.9h1M294.5 49.1h1M298.3 50.2h1M277.6 42.4h1M298.9 48.2h1M301.9 60.0h1M292.3 50.3h1M302.6 41.0h1M290.3 45.0h1M291.1 46.4h1M274.6 43.7h1M293.3 50.8h1M281.4 46.7h1M294.8 43.9h1M283.8 54.4h1M285.7 50.2h1M285.6 44.6h1M279.2 62.0h1M293.5 48.6h1M286.0 42.0h1M279.6 45.6h1M292.1 49.4h1M291.5 56.7h1M273.7 32.0h1M285.5 52.7h1M297.0 62.1h1M286.8 36.7h1M294.4 57.4h1M291.6 42.9h1M298.6 56.2h1M279.0 43.4h1M300.3 41.5h1M292.0 49.5h1M287.4 36.7h1M297.0 38.0h1M286.4 54.7h1M277.1 34.9h1M297.7 44.9h1M280.6 48.9h1M282.6 45.5h1M291.3 49.8h1M283.2 44.2h1M279.1 44.9h1M292.4 50.6h1M291.1 40.3h1M281.2 57.7h1M296.1 46.6h1M298.2 63.1h1M302.9 40.2h1M281.2 45.5h1M281.4 39.3h1M293.1 32.8h1M287.8 44.4h1M288.3 39.1h1M278.8 45.0h1M298.3 41.0h1M273.5 29.4h1M300.2 47.1h1M296.6 51.1h1M289.6 52.5h1M292.7 40.8h1M297.4 40.5h1M297.4 40.5h1M283.3 40.5h1M290.6 45.5h1M293.4 49.1h1M303.0 35.0h1M292.3 50.9h1M285.1 46.9h1M290.8 50.2h1M291.1 42.5h1M279.2 38.1h1M291.1 53.1h1M293.1 46.4h1M281.4 49.9h1M294.0 60.6h1M268.5 35.1h1M281.0 46.5h1M285.5 37.4h1M281.8 41.5h1M289.3 56.9h1M289.7 36.7h1M286.2 51.2h1M289.5 47.9h1M277.0 42.0h1M272.0 40.6h1M288.3 45.2h1M288.6 45.1h1M277.7 62.7h1M293.9 40.8h1M290.7 48.4h1M292.8 49.7h1M293.3 40.9h1M300.1 34.3h1M295.6 45.7h1M290.7 35.8h1M296.4 55.7h1M287.6 43.7h1M285.0 48.8h1M285.1 46.6h1M290.2 46.9h1M286.7 41.3h1M286.5 55.1h1M288.6 39.1h1M293.5 45.3h1M291.0 57.9h1M286.6 48.0h1M290.4 43.3h1M293.9 41.7h1M290.2 39.3h1M284.5 44.6h1M293.3 40.6h1M301.5 56.3h1M291.2 40.2h1M283.6 49.0h1M294.9 56.8h1M290.2 33.9h1M292.5 51.9h1M288.5 43.2h1M290.1 39.8h1M295.9 46.0h1M295.1 42.6h1M288.4 49.0h1M287.6 48.1h1M299.3 46.7h1M291.7 39.4h1M297.0 43.0h1M282.3 46.9h1M295.9 40.8h1M285.2 49.1h1M280.9 45.9h1M276.6 51.3h1M296.8 47.4h1M295.1 49.5h1M300.2 31.3h1M285.1 54.3h1M290.1 48.0h1M298.7 47.5h1M278.8 40.4h1M289.8 41.5h1M299.7 50.8h1M290.6 58.2h1M278.2 41.9h1M292.6 51.7h1M292.3 43.9h1M282.9 45.7h1M293.8 44.3h1M287.5 42.7h1M283.9 47.9h1M294.3 56.2h1M280.0 50.1h1M292.2 43.6h1M305.0 38.3h1M288.1 46.5h1M289.6 49.2h1M292.3 50.8h1M287.0 44.9h1M296.7 43.3h1M289.8 47.4h1M279.6 39.6h1M295.5 38.6h1M288.5 45.6h1M274.3 58.6h1M295.3 57.4h1M283.6 38.1h1M283.2 47.0h1M291.6 35.2h1M289.5 46.0h1M285.1 48.0h1M296.8 50.0h1M274.0 59.6h1M286.2 59.1h1M294.6 52.9h1M288.8 47.3h1M296.8 51.1h1M290.9 44.8h1M294.0 57.7h1M283.6 37.9h1M285.0 44.8h1M287.8 46.1h1M290.3 45.4h1M297.7 48.1h1M294.9 49.1h1M290.1 38.9h1M287.5 41.3h1M292.3 45.3h1M286.5 42.9h1M285.1 49.1h1M307.1 46.4h1M285.7 34.6h1M299.8 46.0h1M287.5 42.3h1M298.8 50.7h1M284.5 49.3h1M301.2 39.4h1M293.1 56.8h1M295.2 46.7h1M299.6 46.3h1M292.6 53.5h1M288.2 50.6h1M289.9 41.0h1M283.7 39.5h1M293.4 43.8h1M297.9 53.5h1M282.3 55.1h1M288.9 48.8h1M299.3 40.0h1M310.4 43.1h1M290.8 48.3h1M290.2 51.3h1M292.0 35.8h1M291.4 56.2h1M278.6 57.8h1M291.6 43.2h1M286.0 44.7h1M301.5 33.1h1M288.7 34.5h1M292.6 51.9h1M296.1 45.8h1M292.7 38.8h1M300.3 33.0h1M298.1 33.6h1M287.5 48.8h1M291.0 32.2h1M284.2 49.2h1M279.9 32.1h1M298.4 54.8h1M292.6 35.8h1M292.4 37.5h1M293.9 38.0h1M300.8 34.4h1M298.5 49.0h1M296.0 45.1h1M296.3 46.9h1M285.4 43.3h1M290.5 45.5h1M286.3 57.9h1M289.9 50.3h1M288.3 50.2h1M288.6 32.5h1M291.5 59.3h1M292.2 42.7h1M284.2 49.8h1M289.1 50.7h1M294.3 44.0h1M290.0 49.9h1M286.4 43.7h1M290.2 46.2h1M290.1 45.3h1M288.9 42.9h1M289.6 46.5h1M287.9 44.5h1M292.7 48.9h1M287.8 47.6h1M290.0 49.2h1M289.7 36.4h1M286.9 45.3h1M292.3 50.8h1M290.7 47.5h1M286.5 43.3h1M290.1 45.5h1M292.8 45.6h1M293.1 39.9h1M287.7 53.4h1M285.8 47.5h1M290.0 43.8h1M292.8 51.8h1M289.6 51.3h1M287.1 46.4h1M294.7 43.8h1M292.5 46.9h1M290.8 53.9h1M288.4 43.6h1M288.5 46.4h1M294.3 45.7h1M287.3 47.3h1M293.0 40.2h1M293.2 41.4h1M296.0 42.5h1M285.2 48.5h1M290.4 46.8h1M293.8 45.5h1M289.6 48.8h1M289.7 44.6h1M288.6 42.3h1M294.0 46.5h1M290.0 43.5h1M288.2 38.2h1M291.4 53.3h1M290.0 48.9h1M289.1 43.6h1" stroke="rgb(40,40,230)" stroke-opacity="0.6" stroke-width="1" fill="none"/>
<path d="M313.6 49.8h1M315.9 48.8h1M316.5 42.0h1M316.6 50.7h1M316.8 51.7h1M318.0 43.4h1M316.6 42.6h1M315.0 49.1h1M318.8 50.5h1M315.9 48.3h1M313.6 53.3h1M314.8 44.7h1M319.3 49.5h1M315.1 46.7h1M314.2 42.4h1M317.6 55.4h1M310.3 43.1h1M316.2 52.5h1M315.0 47.2h1M316.8 48.6h1M320.1 41.7h1M318.3 48.4h1M314.1 44.9h1M313.7 44.7h1M316.3 48.0h1M314.7 36.9h1M320.4 42.2h1M315.5 53.3h1M315.9 46.5h1M314.9 48.2h1M316.0 44.8h1M313.8 46.0h1M312.3 43.9h1M318.7 50.8h1M315.2 47.7h1M317.9 46.2h1M315.0 45.6h1M319.0 52.0h1M318.8 50.7h1M317.6 47.1h1M317.9 48.7h1M321.5 54.6h1M317.2 48.8h1M323.4 50.8h1M315.5 46.7h1" stroke="rgb(205,45,70)" stroke-opacity="0.72" stroke-width="1" fill="none"/>
<path d="M312.6 50.7h1M297.2 68.9h1M302.2 42.7h1M309.3 50.2h1M305.0 55.9h1M303.1 64.6h1M276.3 58.8h1M305.4 39.5h1M285.9 51.9h1M312.4 48.3h1M293.6 52.5h1M317.1 39.5h1M290.5 34.4h1M283.7 62.9h1M300.1 50.3h1M290.6 35.3h1M286.6 44.5h1M296.8 49.2h1M277.8 42.6h1M309.2 51.0h1M288.0 48.9h1M297.2 44.7h1M289.2 42.4h1M303.6 36.1h1M296.1 42.5h1M309.8 45.2h1M292.0 44.0h1M311.5 37.0h1M275.3 39.4h1M309.8 45.0h1M299.1 58.8h1M300.3 58.2h1M316.0 60.6h1M283.5 64.2h1M310.2 50.5h1M323.5 45.0h1M313.2 40.7h1M306.6 48.8h1M284.9 53.3h1" stroke="rgb(150,150,175)" stroke-opacity="0.45" stroke-width="1" fill="none"/>
<path d="M362.4 35.9h1M363.6 55.6h1M356.8 48.6h1M371.1 38.1h1M371.0 40.0h1M358.9 42.1h1M359.2 41.2h1M367.1 35.7h1M365.0 42.6h1M359.0 57.2h1M360.2 51.5h1M365.5 38.8h1M360.3 50.1h1M363.7 43.3h1M363.2 53.7h1M364.6 40.7h1M362.1 45.0h1M368.3 38.0h1M365.3 34.7h1M358.6 47.2h1M359.2 52.9h1M362.6 50.5h1M365.3 39.2h1M357.7 47.4h1M354.5 50.4h1M358.3 39.3h1M366.5 36.0h1M359.8 34.6h1M357.6 52.8h1M360.9 58.5h1M363.1 37.1h1M356.5 36.3h1M359.7 54.2h1M364.3 37.2h1M363.4 45.4h1M364.2 45.9h1M366.5 44.8h1M361.8 45.7h1M362.4 44.8h1M361.9 43.1h1M357.1 57.6h1M362.8 39.4h1M367.9 40.7h1M357.3 36.9h1M359.5 36.6h1M357.9 41.6h1M360.3 43.8h1M361.6 55.3h1M363.3 42.0h1M362.6 49.2h1M355.2 45.3h1M365.9 54.5h1M360.4 46.1h1M358.4 46.9h1M355.8 57.9h1M364.2 43.7h1M358.6 45.8h1M356.5 49.7h1M360.1 46.9h1M360.4 45.2h1M358.4 56.5h1M361.5 49.7h1M361.8 46.0h1M359.6 44.7h1M361.4 42.7h1M364.9 48.3h1M359.5 43.2h1M365.2 51.9h1M358.7 42.4h1M363.5 47.7h1M360.1 43.8h1M355.3 45.6h1M358.1 52.3h1M360.1 47.9h1M360.2 45.3h1M367.4 30.9h1M367.4 33.7h1M361.6 53.6h1M361.4 38.2h1M360.0 37.7h1M362.4 45.1h1M367.3 32.0h1M360.7 38.0h1M363.6 29.6h1M361.6 35.2h1M363.9 44.4h1M359.7 52.7h1M359.9 57.4h1M364.8 42.0h1M362.5 38.9h1M362.0 39.7h1M360.2 49.5h1M358.7 46.2h1M362.8 41.7h1M363.3 40.7h1M362.5 53.7h1M360.7 42.4h1M358.9 43.6h1M358.8 43.1h1M360.0 46.5h1M366.9 47.0h1M365.4 51.1h1M359.7 55.6h1M358.2 51.6h1M361.4 50.3h1M364.8 51.6h1M368.2 40.6h1M362.1 39.8h1M363.4 54.8h1M359.4 48.7h1M354.2 47.4h1M364.3 36.7h1M356.4 46.1h1M361.0 46.9h1M359.9 46.0h1M360.9 50.9h1M360.5 45.4h1M361.5 45.9h1M367.4 25.1h1M361.3 43.9h1M365.4 49.3h1M356.4 50.9h1M357.0 60.4h1M360.1 54.3h1M359.1 44.9h1M359.6 62.3h1M367.2 34.3h1M360.8 37.3h1M360.8 48.3h1M366.7 36.1h1M361.2 58.6h1M360.2 44.7h1M360.4 50.1h1M362.1 32.5h1M359.0 42.1h1M363.5 38.1h1M364.4 49.9h1M367.3 32.6h1M363.1 37.5h1M356.8 49.9h1M354.3 48.0h1M358.7 36.1h1M360.6 44.3h1M363.7 45.4h1M355.8 42.6h1M365.0 36.7h1M361.0 53.9h1M361.7 52.6h1M353.8 52.2h1M362.4 43.1h1M363.4 35.5h1M358.6 43.4h1M365.9 34.2h1M363.4 48.1h1M361.5 49.6h1M362.8 53.1h1M359.8 50.0h1M358.5 58.5h1M365.5 51.9h1M358.5 43.2h1M367.4 59.0h1M363.7 35.3h1M357.1 46.9h1M360.9 46.5h1M362.7 49.4h1M366.0 47.7h1M355.5 46.1h1M364.8 36.6h1M360.3 42.2h1M365.8 47.7h1M363.1 40.5h1M363.5 37.8h1M355.6 43.3h1M366.4 34.0h1M363.9 34.2h1M364.5 32.2h1M361.1 53.7h1M363.6 44.6h1M363.4 41.8h1M359.7 49.0h1M373.4 38.6h1M378.5 37.5h1M373.4 37.8h1M368.6 38.3h1M364.3 41.0h1M380.3 34.6h1M371.1 37.0h1M371.8 36.1h1M370.8 37.1h1M371.8 36.2h1M379.4 34.8h1M371.2 37.0h1M374.1 38.5h1M371.9 35.4h1M377.0 35.0h1M372.9 38.1h1M379.7 37.0h1M378.8 33.9h1M378.9 34.0h1M369.0 37.8h1M365.3 36.2h1M376.2 40.3h1M372.5 36.2h1M375.2 36.8h1M375.5 35.6h1M375.1 34.2h1M374.2 38.2h1M373.1 37.8h1M369.9 39.8h1M368.0 37.8h1M362.4 54.5h1M365.9 51.9h1M370.9 55.6h1M366.0 44.4h1M360.2 51.5h1M364.2 45.2h1M362.4 45.4h1M366.8 56.4h1M364.2 47.7h1M365.1 51.8h1M368.0 45.7h1M363.1 54.6h1M366.9 57.8h1M370.2 52.4h1M362.5 53.3h1M363.6 53.0h1M373.8 58.2h1M371.5 54.9h1M366.0 54.8h1M373.8 47.0h1M369.1 53.2h1M370.7 54.3h1M370.1 58.0h1M368.8 54.0h1M376.4 53.0h1M371.3 55.1h1M368.7 55.7h1M364.0 51.2h1M366.2 58.4h1M366.8 53.2h1" stroke="rgb(40,40,230)" stroke-opacity="0.6" stroke-width="1" fill="none"/>
<path d="M388.1 49.7h1M386.1 41.9h1M386.6 48.4h1M387.0 47.4h1M386.6 52.6h1M385.7 48.3h1M386.2 46.6h1M386.8 47.1h1M388.0 48.7h1M387.6 41.5h1M388.0 46.2h1M388.0 46.3h1M385.9 47.8h1M386.1 46.0h1M387.7 45.9h1M388.3 45.7h1M385.3 51.5h1M387.0 52.0h1M385.8 48.9h1M387.5 48.4h1M386.9 47.4h1M386.3 50.1h1M388.2 50.3h1M387.9 45.4h1M387.8 47.2h1M386.9 47.3h1M387.8 53.1h1M388.3 49.1h1" stroke="rgb(205,45,70)" stroke-opacity="0.72" stroke-width="1" fill="none"/>
<path d="M354.0 53.6h1M360.8 41.0h1M377.5 54.2h1M361.4 46.9h1M392.6 40.9h1M379.7 37.8h1M370.5 63.8h1M357.1 51.4h1M370.0 61.5h1M373.4 67.1h1M390.4 54.5h1M374.4 48.3h1M375.4 47.2h1M370.0 49.3h1M369.4 63.5h1M385.5 48.2h1M373.3 54.6h1M374.8 45.5h1M356.9 56.0h1M369.7 46.5h1M345.0 50.4h1M365.6 62.5h1M370.0 53.0h1M380.8 48.7h1M383.4 51.2h1M363.8 50.3h1M388.1 57.6h1M370.8 68.7h1M357.4 37.4h1M367.1 58.9h1M366.2 42.5h1M381.5 48.5h1M374.8 45.6h1M368.7 63.6h1M365.0 49.4h1M375.3 53.2h1M366.1 58.5h1M361.9 56.2h1M368.7 57.1h1M373.4 62.5h1" stroke="rgb(150,150,175)" stroke-opacity="0.45" stroke-width="1" fill="none"/>
<path d="M299.4 115.5h1M291.5 117.0h1M286.4 122.0h1M293.2 113.6h1M290.6 118.2h1M293.0 119.7h1M293.0 121.4h1M275.4 111.3h1M280.2 121.3h1M287.8 112.2h1M281.1 117.0h1M289.9 116.5h1M295.8 120.5h1M292.9 125.1h1M277.5 124.0h1M285.6 115.7h1M288.9 120.1h1M292.7 121.4h1M284.8 105.1h1M287.6 113.5h1M282.2 116.1h1M294.2 121.1h1M290.7 120.1h1M291.3 116.5h1M285.8 115.6h1M289.5 123.6h1M277.9 114.4h1M285.5 117.9h1M294.0 119.0h1M291.7 121.2h1M289.5 119.7h1M289.1 113.4h1M281.9 122.4h1M288.6 118.3h1M295.3 115.6h1M283.0 114.8h1M291.6 113.8h1M290.7 115.6h1M290.8 124.7h1M286.9 107.7h1M292.1 114.1h1M291.3 112.5h1M281.6 114.9h1M290.9 122.1h1M284.9 117.5h1M287.7 120.4h1M303.2 119.5h1M290.4 119.8h1M284.7 114.1h1M292.4 123.0h1M286.6 117.5h1M288.1 116.1h1M295.3 124.2h1M285.6 119.8h1M286.6 116.2h1M285.7 118.6h1M285.5 113.0h1M287.0 120.6h1M286.0 115.7h1M295.6 110.6h1M289.6 119.7h1M288.8 119.2h1M301.1 119.9h1M285.7 126.2h1M282.7 113.8h1M286.0 122.5h1M288.4 120.1h1M285.3 118.2h1M285.6 116.8h1M289.3 122.5h1M292.2 122.1h1M288.8 117.2h1M287.3 117.9h1M288.2 122.7h1M282.8 125.2h1M293.3 119.8h1M285.0 121.4h1M290.0 121.7h1M279.1 115.4h1M292.0 116.6h1M291.9 120.3h1M287.0 114.8h1M285.2 120.6h1M292.9 114.1h1M282.6 120.6h1M293.2 120.8h1M293.0 114.9h1M285.9 115.3h1M280.9 121.0h1M284.1 119.3h1M290.5 122.2h1M283.2 123.4h1M292.9 126.3h1M289.6 125.0h1M283.5 112.9h1M290.7 112.5h1M291.2 122.2h1M298.7 124.7h1M285.9 124.6h1M292.8 114.1h1M293.0 116.8h1M291.8 113.9h1M285.4 122.9h1M287.3 116.9h1M284.6 114.5h1M286.1 120.0h1M287.1 117.9h1M295.0 131.1h1M299.1 121.8h1M283.4 119.1h1M294.3 126.7h1M290.7 125.2h1M285.2 119.3h1M290.1 121.2h1M301.8 124.4h1M288.7 130.0h1M287.6 124.4h1M291.3 124.8h1M287.7 120.0h1M291.3 122.8h1M289.9 119.9h1M283.5 123.7h1M288.5 125.3h1M284.2 112.6h1M300.7 118.1h1M284.9 123.9h1M296.2 115.7h1M288.6 109.9h1M283.3 119.0h1M280.4 121.7h1M286.0 119.9h1M289.8 117.3h1M296.3 116.1h1M274.0 121.2h1M290.4 122.2h1M290.5 120.5h1M286.3 119.7h1M286.6 114.3h1M283.7 121.6h1M284.8 127.0h1M291.8 125.2h1M293.7 124.1h1M286.1 121.0h1M288.5 117.2h1M289.0 114.9h1M288.5 120.7h1M289.4 117.8h1M290.0 116.3h1M283.0 115.7h1M285.7 115.0h1M283.2 120.3h1M282.0 114.7h1M283.7 127.3h1M294.4 118.3h1M283.1 111.4h1M287.2 111.1h1M293.7 119.9h1M293.4 115.1h1M287.7 116.7h1M290.2 120.4h1M288.2 125.6h1M287.2 116.8h1M295.5 115.8h1M292.8 115.4h1M285.3 117.9h1M282.2 123.0h1M296.3 118.1h1M291.7 126.5h1M290.7 117.6h1M297.5 115.0h1M288.2 118.1h1M295.5 111.8h1M296.6 125.1h1M289.5 116.4h1M289.1 123.5h1M283.0 113.6h1M282.7 119.1h1M287.3 120.7h1M285.3 120.2h1M291.4 121.8h1M275.1 118.2h1M279.8 118.5h1M294.7 122.0h1M284.6 120.3h1M288.8 114.9h1M291.0 126.2h1M289.6 118.0h1M287.6 113.2h1M290.0 115.9h1M287.0 109.1h1M289.8 126.5h1M281.0 124.3h1M286.2 126.8h1M289.6 125.2h1M285.1 117.6h1M293.6 119.2h1M294.5 115.9h1M295.0 115.4h1M280.6 125.8h1M285.2 114.3h1M285.8 116.9h1M282.7 117.6h1M291.6 116.8h1M285.1 121.2h1M292.2 116.3h1M289.6 118.3h1M292.0 113.4h1M292.4 118.6h1M284.8 124.0h1M286.2 125.2h1M290.3 113.3h1M291.8 125.1h1M295.8 114.3h1M285.8 114.6h1M294.3 122.2h1M287.3 120.3h1M293.2 120.9h1M292.0 122.9h1M275.7 120.6h1M290.2 125.9h1M286.3 119.4h1M291.5 120.3h1M293.2 123.8h1M282.9 123.2h1M290.7 121.3h1M287.4 118.4h1M284.8 121.6h1M291.4 116.4h1M300.5 110.0h1M288.0 121.6h1M289.9 124.2h1M290.0 121.0h1M286.5 120.1h1M289.4 120.1h1M282.2 122.4h1M284.1 123.6h1M279.8 117.8h1M291.2 120.8h1M288.0 116.3h1M290.2 110.6h1M286.3 114.1h1M282.7 118.2h1M292.0 122.1h1M287.2 125.1h1M285.5 120.8h1M294.0 120.5h1M288.0 119.4h1M277.5 114.9h1M287.2 117.8h1M288.9 117.3h1M280.5 125.3h1M287.9 124.1h1M280.5 117.9h1M278.7 121.9h1M295.1 119.2h1M281.6 122.5h1M292.2 125.0h1M287.6 116.8h1M289.5 110.7h1M287.9 117.3h1M288.2 122.7h1M291.0 110.7h1M294.2 119.9h1M293.1 118.5h1M288.9 109.4h1M287.1 111.8h1M292.9 119.0h1M288.1 119.2h1M286.9 113.1h1M289.2 116.2h1M285.4 125.3h1M279.1 115.6h1M281.0 122.8h1M292.6 120.2h1M284.4 119.1h1M295.1 116.0h1M298.9 118.7h1M289.8 127.7h1M287.6 117.2h1M289.8 120.2h1M287.8 117.1h1M287.7 120.3h1M290.6 119.6h1M292.2 124.2h1M289.9 117.9h1M290.7 125.1h1M287.3 120.5h1M289.7 115.7h1M289.7 113.1h1M292.0 120.1h1M286.0 122.6h1M285.3 118.4h1M292.0 113.7h1M291.5 112.8h1M289.2 121.1h1M291.7 116.5h1M296.0 121.3h1M285.8 120.3h1M285.0 109.9h1M285.3 117.2h1M288.7 119.9h1M289.3 119.0h1M291.5 119.8h1M285.7 116.2h1M287.3 117.4h1M293.4 115.5h1M291.5 115.8h1M284.4 120.6h1M289.1 117.6h1M289.8 119.0h1M292.4 120.9h1M293.8 118.5h1M285.4 116.0h1M286.6 119.8h1M293.6 120.1h1M292.0 118.7h1M289.9 119.3h1M290.0 115.6h1M286.4 123.0h1M290.5 119.9h1M285.7 117.9h1M284.4 119.2h1M291.1 122.3h1M288.0 121.8h1M289.3 116.1h1M291.6 117.9h1M284.9 113.5h1M289.1 118.0h1M291.2 126.4h1M287.4 121.3h1M286.9 114.6h1M287.2 113.7h1M286.3 117.3h1M288.3 114.9h1M287.7 121.3h1M286.1 120.4h1M288.0 113.4h1M293.7 124.7h1M293.1 120.1h1M291.8 117.2h1M285.4 118.3h1M283.3 122.2h1M291.5 118.4h1M290.3 118.3h1M288.7 117.4h1M290.5 117.1h1M292.4 119.8h1M290.4 114.9h1M281.0 122.2h1M286.1 118.9h1M288.3 121.7h1M289.1 115.9h1M285.4 117.1h1M285.6 112.2h1M281.8 121.0h1M289.1 120.2h1M287.7 118.3h1M284.7 118.6h1M289.5 120.3h1M285.6 123.2h1M289.0 117.9h1M280.0 121.5h1M286.6 115.3h1M287.0 118.1h1M287.2 121.4h1M291.6 120.3h1M292.6 119.0h1M289.7 115.8h1M287.7 112.3h1M287.5 119.6h1M287.8 122.6h1M289.6 116.8h1M289.1 118.4h1M291.3 115.7h1M293.6 118.4h1M293.7 114.1h1M289.2 116.5h1M285.0 119.4h1M292.7 124.0h1M288.0 120.1h1" stroke="rgb(40,40,230)" stroke-opacity="0.6" stroke-width="1" fill="none"/>
<path d="M316.8 127.7h1M320.3 137.5h1M316.6 127.4h1M319.5 131.9h1M320.9 131.7h1M315.2 127.0h1M320.1 129.1h1M315.5 121.8h1M317.3 126.8h1M318.1 130.7h1M317.9 125.3h1M316.7 119.3h1M318.9 124.2h1M315.9 122.6h1M315.3 122.9h1M315.9 147.2h1M321.1 125.5h1M315.2 133.3h1M315.7 123.1h1M317.1 138.1h1M318.3 124.5h1M315.1 120.7h1M316.2 134.9h1M319.5 131.3h1M318.3 126.3h1M318.2 125.4h1M321.3 124.6h1M321.6 120.9h1M321.7 128.5h1M316.2 127.8h1M317.1 122.6h1M314.4 132.0h1M314.0 117.8h1M318.7 117.9h1M320.1 125.1h1M314.7 130.7h1M315.1 121.0h1M317.9 122.4h1M318.4 132.1h1M318.4 124.0h1M314.5 117.1h1M314.0 134.3h1M314.6 120.3h1M318.8 130.1h1M310.1 128.3h1M313.1 121.8h1M318.5 113.7h1M317.5 128.6h1M317.5 120.9h1M317.2 126.6h1M313.8 124.8h1M318.9 137.4h1M318.4 128.4h1M318.0 129.6h1M321.6 118.0h1M318.5 128.3h1M320.5 126.3h1M313.6 119.4h1M315.4 125.7h1M315.5 137.9h1M314.8 133.0h1M315.4 115.4h1M314.5 123.9h1M317.9 120.8h1M319.7 120.5h1M316.5 127.8h1M314.7 125.7h1M317.1 127.1h1M321.8 131.9h1M321.0 123.6h1M316.6 126.4h1M318.2 119.9h1M319.0 120.6h1M315.4 124.6h1M316.1 119.4h1M319.7 125.2h1M318.7 124.7h1M313.4 124.2h1M316.5 122.2h1M318.8 124.0h1" stroke="rgb(205,45,70)" stroke-opacity="0.72" stroke-width="1" fill="none"/>
<path d="M307.6 112.7h1M297.2 117.8h1M292.0 126.5h1M301.7 124.6h1M290.0 134.6h1M316.4 123.4h1M298.4 118.2h1M307.7 109.7h1M289.5 104.6h1M294.4 118.6h1M289.1 118.0h1M289.1 134.9h1M319.6 122.5h1M311.1 122.6h1M311.8 125.3h1M301.8 135.2h1M283.1 128.6h1M302.3 126.0h1M303.2 133.6h1M271.7 118.6h1M316.8 135.4h1M313.5 107.3h1M316.8 126.0h1M326.7 128.9h1M307.5 129.5h1M297.0 125.3h1M284.3 123.8h1M303.5 125.2h1M310.3 124.2h1M305.6 118.6h1M285.5 123.0h1M277.9 133.0h1M293.4 128.4h1M305.0 121.7h1M299.5 109.3h1M289.4 114.6h1M292.3 125.4h1M290.3 117.0h1M287.7 110.2h1M288.5 114.6h1" stroke="rgb(150,150,175)" stroke-opacity="0.45" stroke-width="1" fill="none"/>
<path d="M362.9 117.1h1M357.7 118.4h1M357.9 119.4h1M356.2 115.0h1M359.1 112.4h1M365.8 116.2h1M360.1 114.4h1M365.0 111.9h1M360.5 117.5h1M365.2 117.2h1M365.0 116.6h1M357.0 119.0h1M358.8 121.3h1M364.0 114.9h1M356.8 118.9h1M356.4 116.9h1M358.0 121.6h1M357.4 117.7h1M355.2 118.2h1M358.5 114.0h1M361.3 116.1h1M357.3 117.7h1M366.6 112.8h1M351.9 120.9h1M361.7 113.2h1M356.2 113.7h1M360.3 120.7h1M363.4 119.3h1M359.4 114.0h1M356.7 115.0h1M356.6 116.6h1M362.7 122.9h1M362.0 112.6h1M360.5 117.6h1M364.5 109.1h1M359.5 116.1h1M357.9 120.3h1M360.1 117.5h1M356.8 111.9h1M361.6 118.7h1M361.4 115.4h1M360.0 117.4h1M362.6 115.0h1M362.5 117.5h1M354.7 121.9h1M361.1 118.7h1M361.5 120.2h1M362.3 118.7h1M353.7 119.4h1M360.9 113.1h1M364.3 116.1h1M358.8 122.6h1M359.0 118.3h1M350.1 119.1h1M364.1 110.1h1M359.3 115.6h1M356.3 122.0h1M362.3 119.7h1M363.3 113.9h1M358.8 117.6h1M360.6 113.9h1M361.9 117.8h1M359.4 117.7h1M366.7 110.4h1M356.0 122.2h1M370.8 110.4h1M387.5 113.3h1M382.0 109.6h1M369.1 106.6h1M379.9 105.6h1M360.7 112.0h1M369.6 106.6h1M373.5 106.8h1M382.6 113.0h1M373.4 113.7h1M382.2 110.1h1M376.4 107.7h1M376.6 113.2h1M361.8 107.4h1M381.8 107.1h1M384.5 112.3h1M371.4 112.5h1M384.2 111.3h1M375.8 109.3h1M381.7 111.6h1M396.4 112.8h1M380.1 108.7h1M378.0 109.4h1M379.3 108.1h1M370.1 107.7h1M357.3 111.6h1M374.3 104.3h1M367.6 106.2h1M363.1 111.4h1M372.4 105.6h1M381.7 135.0h1M374.2 126.4h1M364.0 135.7h1M368.4 137.4h1M358.4 128.5h1M363.6 130.9h1M371.7 130.2h1M362.4 133.7h1M354.3 127.8h1M367.8 134.6h1M354.4 127.5h1M347.6 129.7h1M358.3 131.2h1M361.8 131.0h1M379.3 132.7h1M370.6 126.4h1M361.4 133.8h1M370.6 132.8h1M369.4 129.8h1M368.2 134.6h1M370.7 123.5h1M377.0 126.3h1M373.5 126.5h1M373.4 127.4h1M346.3 131.4h1M361.5 133.9h1M378.5 134.6h1M374.9 128.6h1M369.5 124.2h1M369.7 127.4h1" stroke="rgb(40,40,230)" stroke-opacity="0.6" stroke-width="1" fill="none"/>
<path d="M388.1 123.0h1M384.4 120.5h1M388.4 123.1h1M387.5 122.5h1M384.8 122.9h1M384.1 121.7h1M387.8 116.6h1M385.8 123.9h1M384.3 122.8h1M388.0 120.6h1M385.6 121.5h1M388.3 124.6h1M386.6 120.8h1M385.5 121.3h1M386.3 120.6h1M388.6 120.1h1M385.7 120.6h1M387.5 118.2h1M385.3 123.5h1M386.9 125.0h1M386.5 125.0h1M387.8 121.5h1M387.1 123.9h1M387.0 123.5h1M386.9 123.7h1M385.8 121.2h1M385.5 122.9h1M387.4 127.0h1" stroke="rgb(205,45,70)" stroke-opacity="0.72" stroke-width="1" fill="none"/>
<path d="M382.4 111.5h1M376.5 133.2h1M354.4 116.0h1M373.2 120.2h1M364.4 132.8h1M375.7 135.6h1M367.7 123.3h1M370.6 134.0h1M379.6 114.1h1M348.9 129.5h1M372.0 113.5h1M364.3 100.9h1M350.2 105.1h1M351.6 118.2h1M350.6 122.0h1M371.9 127.7h1M364.4 131.8h1M336.1 123.1h1M353.3 111.0h1M362.9 112.5h1M356.9 106.1h1M370.2 129.6h1M369.8 113.3h1M376.0 131.6h1M371.3 120.3h1M379.9 113.9h1M354.7 128.9h1M379.3 123.2h1M352.9 121.4h1M389.9 110.6h1M375.8 116.7h1M374.2 116.5h1M391.8 134.8h1M362.6 121.1h1M370.4 119.2h1M368.6 112.1h1M366.9 116.0h1M362.1 97.5h1M367.4 127.6h1M355.6 120.2h1M363.3 115.3h1M352.6 103.1h1M373.4 122.2h1M377.6 119.0h1M359.9 127.4h1M383.9 110.5h1M364.7 137.2h1M377.0 129.7h1M367.5 110.0h1M356.1 120.0h1M366.2 119.3h1M382.1 126.2h1M355.9 124.8h1M374.2 112.3h1M348.4 118.3h1M360.5 136.0h1M355.7 150.1h1M372.8 111.6h1M364.5 114.9h1M377.0 127.1h1M371.8 97.0h1M363.4 129.3h1M396.0 119.4h1M364.5 116.8h1M369.4 109.0h1M371.9 126.2h1M375.1 115.1h1M351.5 115.1h1M364.9 111.6h1M366.3 128.9h1" stroke="rgb(150,150,175)" stroke-opacity="0.45" stroke-width="1" fill="none"/>
<path d="M281.9 205.0h1M291.8 196.3h1M278.4 203.4h1M288.3 196.9h1M283.9 200.7h1M277.7 189.7h1M280.5 194.0h1M283.1 196.1h1M286.5 190.2h1M293.2 202.2h1M291.3 207.0h1M285.5 185.3h1M285.9 196.6h1M292.9 191.0h1M290.0 193.0h1M282.4 193.1h1M294.3 195.7h1M285.2 198.7h1M289.0 202.0h1M276.4 201.2h1M286.3 195.4h1M290.7 198.0h1M289.0 203.2h1M281.2 206.7h1M286.9 192.7h1M289.6 203.9h1M287.1 199.9h1M290.8 193.8h1M293.3 191.9h1M280.2 201.6h1M291.0 188.5h1M289.2 192.2h1M280.8 190.6h1M282.5 192.1h1M293.0 205.5h1M288.5 204.4h1M290.6 206.2h1M278.1 197.8h1M284.9 194.6h1M285.6 203.9h1M288.6 198.2h1M290.5 202.8h1M288.8 196.2h1M291.8 200.5h1M285.5 197.7h1M281.3 196.1h1M288.2 201.8h1M278.1 199.9h1M282.9 189.6h1M286.3 196.2h1M287.5 196.5h1M290.1 204.0h1M295.3 201.1h1M276.2 187.9h1M290.3 189.9h1M285.1 202.3h1M293.2 196.4h1M290.7 197.9h1M289.1 185.9h1M293.7 200.9h1M280.7 194.7h1M285.6 194.1h1M295.2 191.5h1M292.9 201.6h1M292.6 187.2h1M287.0 201.5h1M284.2 190.2h1M276.6 202.7h1M295.1 205.2h1M288.8 197.8h1M298.7 195.2h1M287.3 188.0h1M294.7 192.8h1M296.1 200.4h1M282.2 199.1h1M290.3 205.9h1M286.2 182.8h1M288.4 196.5h1M296.2 202.3h1M284.1 199.9h1M285.1 197.8h1M281.7 204.3h1M283.6 201.7h1M292.5 183.2h1M289.2 193.3h1M276.1 201.8h1M286.1 197.4h1M285.0 204.0h1M278.5 202.4h1M284.8 188.9h1M279.8 195.3h1M291.5 199.7h1M296.3 199.8h1M290.4 199.7h1M289.8 201.7h1M294.8 194.6h1M282.4 188.8h1M289.1 201.2h1M287.1 188.1h1M284.0 193.6h1M291.7 203.7h1M286.2 197.0h1M293.9 195.6h1M291.3 202.3h1M289.4 194.6h1M286.4 196.3h1M291.4 200.6h1M290.9 207.0h1M283.8 198.6h1M294.2 193.4h1M289.0 201.7h1M290.1 196.9h1M291.9 199.7h1M293.4 191.0h1M290.2 198.0h1M280.5 198.9h1M284.9 194.5h1M284.7 194.9h1M288.2 201.3h1M294.7 195.7h1M282.3 206.3h1M281.7 195.2h1M294.2 199.9h1M285.4 204.2h1M284.4 200.8h1M282.8 190.6h1M286.8 190.5h1M287.1 194.8h1M287.7 199.1h1M295.3 186.6h1M284.8 199.9h1M282.5 204.2h1M280.0 198.8h1M294.6 198.9h1M300.3 199.6h1M287.9 193.4h1M294.8 208.2h1M289.5 202.4h1M290.3 209.7h1M294.0 195.0h1M284.5 192.5h1M283.6 196.9h1M294.8 190.1h1M280.1 199.2h1M276.6 200.9h1M286.9 199.9h1M292.9 210.0h1M286.1 196.6h1M289.7 200.1h1M282.2 188.9h1M283.7 186.9h1M281.9 193.4h1M278.2 191.0h1M282.4 199.2h1M282.8 201.2h1M291.5 184.6h1M290.8 195.8h1M279.6 205.5h1M284.2 204.3h1M286.1 199.8h1M290.5 210.1h1M287.4 197.5h1M273.3 196.1h1M283.7 200.3h1M283.5 200.7h1M289.4 197.6h1M279.8 202.2h1M282.1 191.0h1M283.9 199.2h1M288.9 200.1h1M290.2 198.7h1M285.9 193.1h1M283.6 196.4h1M292.1 198.3h1M284.5 206.3h1M283.6 191.7h1M296.1 199.2h1M285.1 193.7h1M295.9 198.8h1M283.0 211.8h1M284.6 199.2h1M285.2 197.5h1M291.0 192.0h1M278.7 191.4h1M298.1 199.2h1M283.8 203.1h1M285.4 202.7h1M292.6 194.1h1M290.4 200.9h1M291.3 206.5h1M291.8 207.7h1M282.8 195.6h1M292.1 188.9h1M288.1 204.9h1M287.6 197.8h1M293.5 198.9h1M288.4 191.0h1M287.1 191.6h1M291.0 199.4h1M285.6 201.2h1M294.6 200.0h1M289.2 202.9h1M287.8 195.5h1M295.7 189.4h1M291.3 202.5h1M277.5 194.1h1M286.6 199.6h1M283.7 198.0h1M278.7 200.3h1M289.9 193.8h1M283.9 208.5h1M286.8 188.8h1M282.8 202.5h1M285.9 195.8h1M281.4 202.9h1M290.8 194.9h1M293.5 198.0h1M285.5 200.2h1M279.5 197.9h1M283.6 194.7h1M294.7 209.3h1M291.6 197.9h1M281.6 192.4h1M286.5 202.7h1M293.1 201.3h1M291.1 203.6h1M284.1 199.7h1M281.3 187.3h1M280.9 192.3h1M290.4 195.3h1M290.2 194.8h1M279.2 197.3h1M284.0 186.1h1M291.1 203.3h1M284.1 193.6h1M279.9 188.7h1M291.2 195.0h1M293.2 192.4h1M285.8 199.9h1M283.0 195.6h1M300.9 190.3h1M280.9 201.8h1M285.3 201.5h1M274.0 196.6h1M293.0 191.6h1M284.6 194.3h1M289.1 207.9h1M279.9 195.7h1M288.2 193.8h1M285.3 205.2h1M284.1 204.3h1M278.7 202.6h1M288.7 193.4h1M278.2 194.8h1M282.6 186.1h1M294.8 195.1h1M287.8 194.0h1M282.1 202.0h1M291.4 203.2h1M285.5 199.7h1M291.9 193.0h1M284.3 195.5h1M282.9 199.5h1M287.3 195.8h1M277.1 196.9h1M285.8 194.8h1M283.6 200.9h1M281.9 196.4h1M292.5 199.1h1M280.1 195.4h1M287.9 201.0h1M286.7 200.5h1M281.2 203.6h1M284.0 205.5h1M282.9 197.0h1M282.2 189.1h1M293.1 197.1h1M284.8 204.1h1M290.3 190.4h1M284.9 198.4h1M287.8 192.8h1M285.9 200.1h1M284.9 195.8h1M291.8 196.4h1M286.0 198.7h1M289.7 195.8h1M284.2 201.5h1M287.5 198.0h1M285.7 196.5h1M288.8 191.1h1M280.3 189.8h1M284.3 195.2h1M289.1 198.3h1M284.2 198.9h1M285.0 200.3h1M284.4 196.5h1M283.8 197.7h1M286.1 200.3h1M288.6 197.1h1M282.6 198.7h1M290.5 199.7h1M282.6 189.8h1M284.4 196.7h1M287.7 194.6h1M286.5 199.0h1M286.6 196.2h1M285.4 201.0h1M288.0 194.5h1M284.9 193.8h1M284.0 197.4h1M287.9 194.5h1M282.8 193.4h1M289.3 194.1h1M285.4 201.5h1M287.5 196.6h1M288.8 197.6h1M287.9 194.7h1M290.9 194.4h1M283.8 188.8h1M279.5 196.7h1M288.6 197.8h1M288.1 192.4h1M286.4 194.6h1M284.0 196.1h1M291.4 198.4h1M286.1 197.9h1M283.4 195.4h1M289.5 199.9h1M287.7 189.6h1M283.3 193.7h1M284.5 196.3h1M286.2 190.9h1M287.3 200.3h1M285.3 204.1h1M280.7 201.0h1M290.0 193.8h1M287.0 196.6h1M283.2 197.6h1M287.5 192.2h1M285.4 197.2h1M287.7 195.4h1M288.6 198.1h1M288.2 205.5h1M290.2 200.0h1M282.2 194.1h1M289.6 204.1h1M287.4 204.1h1M286.9 196.4h1M283.7 194.1h1M283.8 196.1h1M285.4 197.7h1M289.7 200.8h1M290.5 199.1h1M282.5 199.9h1M281.3 204.8h1M284.7 194.0h1M289.0 197.6h1M291.5 199.4h1M292.1 191.1h1M287.7 196.1h1M285.5 196.6h1M286.5 196.1h1M288.7 199.2h1M287.2 197.0h1M288.6 191.9h1M290.0 197.0h1M285.6 192.0h1M287.3 190.7h1M284.2 193.8h1M286.6 197.2h1M286.9 199.3h1M293.7 197.8h1M285.0 197.0h1M287.9 198.8h1M286.4 197.9h1M284.9 194.9h1M286.0 194.9h1M290.9 194.5h1M283.8 198.4h1M281.3 191.2h1M287.6 193.0h1M285.5 200.9h1M285.1 199.3h1M289.0 199.5h1M287.0 199.3h1M288.1 197.3h1M286.9 197.2h1M286.2 195.2h1M295.1 201.3h1M282.0 194.6h1M279.7 193.2h1M282.5 196.8h1M289.2 201.2h1M288.5 198.4h1M288.9 195.3h1M286.6 199.6h1M287.2 199.9h1M287.6 196.8h1M284.4 195.8h1M289.7 196.8h1M288.7 196.5h1M289.4 195.6h1M285.7 191.7h1M281.0 197.2h1M287.8 195.0h1M279.7 192.6h1M283.5 195.1h1M284.2 198.6h1M284.7 197.1h1M287.2 198.3h1M285.5 198.4h1M286.8 194.0h1M283.3 190.2h1M290.5 193.8h1M290.2 194.6h1M288.4 196.2h1M290.0 193.4h1M283.8 195.3h1M277.5 191.3h1M286.5 193.0h1M291.8 194.7h1M288.0 201.5h1M291.8 200.5h1M290.2 203.0h1M284.7 197.8h1M288.8 201.1h1M287.8 197.3h1M290.1 194.2h1M282.4 193.4h1M284.1 195.1h1" stroke="rgb(40,40,230)" stroke-opacity="0.6" stroke-width="1" fill="none"/>
<path d="M311.3 199.6h1M318.4 198.5h1M316.2 196.0h1M314.9 198.0h1M315.8 204.6h1M315.4 195.0h1M315.0 199.7h1M321.4 201.2h1M321.9 192.8h1M316.3 199.9h1M317.2 192.9h1M316.7 193.9h1M319.3 196.7h1M316.3 194.6h1M316.9 204.1h1M315.4 189.3h1M315.0 200.3h1M315.6 200.4h1M316.7 200.4h1M320.3 192.4h1M316.1 197.4h1M321.1 195.1h1M316.8 201.8h1M315.2 202.7h1M312.6 198.8h1M311.6 189.0h1M315.8 194.5h1M314.6 195.3h1M314.8 194.1h1M316.2 192.2h1M314.6 196.3h1M314.5 208.2h1M324.5 206.1h1M316.3 198.9h1M319.6 202.4h1M316.1 204.0h1M321.4 203.7h1M318.3 194.9h1M317.4 186.8h1M317.1 202.0h1M317.3 199.3h1M314.5 201.7h1M316.5 190.8h1M315.3 195.7h1M316.6 200.7h1M315.8 203.1h1M314.2 196.1h1M318.2 195.9h1M315.8 201.5h1M312.8 194.6h1M317.7 193.4h1M321.4 201.0h1M316.7 196.7h1M318.8 202.1h1M313.8 204.4h1M316.6 195.4h1M311.8 191.6h1M317.3 200.5h1M315.5 192.6h1M313.3 203.3h1" stroke="rgb(205,45,70)" stroke-opacity="0.72" stroke-width="1" fill="none"/>
<path d="M316.7 210.5h1M311.9 197.8h1M306.2 195.3h1M285.4 199.2h1M288.0 196.0h1M322.0 198.9h1M328.3 206.6h1M279.2 202.9h1M294.5 203.0h1M299.3 188.1h1M297.3 205.2h1M300.6 193.3h1M297.9 223.0h1M279.6 187.5h1M299.0 200.0h1M307.4 212.7h1M297.0 199.3h1M310.5 208.7h1M275.8 170.4h1M310.0 200.7h1M303.6 211.8h1M283.7 192.4h1M290.7 192.2h1M302.0 203.7h1M319.6 222.8h1M293.2 191.8h1M302.4 198.6h1M279.3 194.5h1M281.8 215.2h1M286.2 186.4h1M308.2 209.2h1M278.3 221.1h1M315.9 186.7h1M288.7 210.1h1M278.5 196.7h1M303.4 184.5h1M306.7 201.6h1M313.4 189.5h1M295.4 203.9h1" stroke="rgb(150,150,175)" stroke-opacity="0.45" stroke-width="1" fill="none"/>
<path d="M364.1 193.3h1M358.2 188.8h1M356.7 192.1h1M349.5 196.8h1M359.9 195.5h1M362.7 183.6h1M364.6 198.1h1M361.5 195.6h1M365.1 201.9h1M359.9 196.2h1M362.9 186.7h1M361.8 197.1h1M356.1 198.0h1M361.6 198.7h1M358.8 182.4h1M357.3 191.5h1M362.4 192.2h1M363.6 202.8h1M358.6 193.9h1M357.9 198.6h1M360.2 191.1h1M358.9 200.8h1M364.8 204.9h1M359.0 197.7h1M362.2 201.2h1M358.9 189.3h1M359.6 201.6h1M359.3 188.8h1M355.2 201.6h1M358.8 186.2h1M357.8 200.3h1M366.7 191.0h1M362.4 192.9h1M359.6 186.4h1M362.5 185.5h1M357.6 181.2h1M359.7 195.6h1M362.2 197.8h1M359.1 199.7h1M354.9 199.3h1M357.1 190.6h1M356.0 198.3h1M359.8 194.5h1M358.2 190.8h1M357.2 196.8h1M354.9 188.2h1M358.1 200.4h1M364.4 197.6h1M361.5 198.2h1M358.2 205.7h1M355.0 188.7h1M362.8 197.9h1M359.0 193.5h1M360.3 199.2h1M363.2 191.2h1M357.6 198.9h1M367.4 197.3h1M360.6 196.2h1M355.0 194.5h1M360.9 199.7h1M362.1 199.0h1M357.7 195.8h1M353.0 191.0h1M360.1 189.1h1M358.0 196.3h1M355.4 198.8h1M357.4 185.4h1M356.2 194.5h1M361.8 181.9h1M356.9 196.3h1M359.7 198.3h1M359.5 193.6h1M360.9 200.9h1M359.9 202.0h1M363.3 189.9h1M350.5 197.8h1M363.2 196.1h1M355.3 189.7h1M360.7 195.3h1M367.4 202.3h1M358.5 199.9h1M360.5 196.8h1M363.6 198.5h1M358.3 203.2h1M360.6 193.9h1M357.2 197.8h1M362.3 196.8h1M359.9 194.8h1M359.2 182.5h1M354.9 196.6h1M360.9 200.6h1M358.5 187.3h1M365.1 199.5h1M360.2 193.4h1M358.2 186.2h1M353.7 195.1h1M367.2 206.6h1M361.2 199.7h1M360.1 201.7h1M361.7 189.7h1M354.9 193.9h1M354.5 185.6h1M357.1 197.8h1M364.5 201.5h1M360.1 193.1h1M361.2 191.4h1M361.4 199.1h1M355.6 196.0h1M364.1 190.9h1M355.7 197.2h1M359.6 195.3h1M362.0 193.0h1M360.8 200.2h1M357.6 191.2h1M361.2 190.1h1M359.5 193.6h1M362.0 188.8h1M358.2 187.7h1M355.5 196.6h1M360.0 199.4h1M363.3 181.3h1M355.4 187.9h1M367.2 189.2h1M354.2 181.1h1M358.6 203.2h1M357.5 188.0h1M357.8 188.1h1M368.7 193.3h1M352.3 190.5h1M355.7 203.4h1M361.6 201.1h1M355.7 199.2h1M360.9 204.1h1M358.5 188.0h1M360.3 205.1h1M361.5 188.0h1M360.7 194.1h1M362.3 198.7h1M360.4 190.3h1M355.8 189.1h1M357.8 201.5h1M354.5 193.7h1M362.8 191.9h1M359.7 201.6h1M360.5 202.0h1M359.6 197.2h1M358.5 194.0h1M355.4 191.8h1M357.9 196.1h1M360.3 190.9h1M356.5 198.2h1M356.2 197.6h1M359.9 192.1h1M357.5 198.7h1M356.7 182.6h1M356.1 197.5h1M359.2 201.7h1M361.6 203.9h1M352.4 195.6h1M358.7 194.5h1M360.0 188.3h1M359.0 191.2h1M363.0 192.6h1M355.9 189.2h1M358.1 187.0h1M364.2 196.7h1M365.8 186.4h1M357.3 189.2h1M359.9 184.7h1M363.6 195.8h1M355.6 193.0h1M358.1 197.9h1M359.9 190.1h1M360.1 195.5h1M359.2 194.0h1M359.2 186.6h1M358.5 183.3h1M355.9 190.9h1M357.1 198.0h1M357.4 207.1h1" stroke="rgb(40,40,230)" stroke-opacity="0.6" stroke-width="1" fill="none"/>
<path d="M387.5 208.3h1M386.6 197.8h1M386.3 189.8h1M387.4 197.4h1M384.5 187.8h1M387.1 184.5h1M387.5 199.9h1M386.5 195.2h1M390.1 198.8h1M386.9 189.6h1M385.5 201.0h1M386.6 202.9h1M389.1 210.0h1M386.7 192.6h1M386.3 195.0h1M388.7 198.9h1M386.6 201.5h1M383.1 207.2h1M389.2 195.8h1M384.2 194.5h1M385.7 208.1h1M386.9 193.4h1M387.0 192.2h1M386.9 202.3h1M386.2 199.1h1M388.4 194.1h1M386.6 196.5h1M388.2 202.1h1M384.8 190.6h1M386.4 200.7h1M384.4 208.4h1M387.2 196.8h1" stroke="rgb(205,45,70)" stroke-opacity="0.72" stroke-width="1" fill="none"/>
<path d="M367.5 186.0h1M385.3 197.4h1M356.7 195.2h1M361.0 202.4h1M378.7 191.6h1M367.6 204.2h1M355.4 210.2h1M380.6 204.9h1M367.0 195.8h1M362.2 209.0h1M349.1 214.0h1M387.7 187.8h1M372.8 203.2h1M380.7 215.0h1M386.3 200.2h1M383.4 190.1h1M383.0 211.7h1M378.0 189.2h1M357.9 190.0h1M378.3 201.4h1M362.6 205.1h1M344.5 198.7h1M363.9 208.6h1M364.9 195.1h1M370.8 203.2h1M366.8 183.9h1M388.5 210.5h1M357.3 194.7h1M362.1 210.4h1M372.2 192.3h1M387.9 183.2h1M377.6 184.8h1M370.4 200.9h1M388.7 208.0h1M352.7 188.1h1M374.0 197.7h1M372.8 198.4h1M381.8 199.8h1M379.1 182.6h1M359.9 188.0h1M386.6 184.4h1M383.7 206.3h1M369.0 205.4h1M368.6 201.8h1M372.2 193.4h1M378.7 199.6h1M360.2 193.9h1M358.2 202.1h1M364.6 217.2h1M354.3 187.6h1" stroke="rgb(150,150,175)" stroke-opacity="0.45" stroke-width="1" fill="none"/>
<line x1="70.7" y1="13.049999999999999" x2="70.7" y2="239.3" stroke="#000" stroke-width="1.6"/>
<line x1="145.6" y1="13.85" x2="145.6" y2="238.5" stroke="#000" stroke-width="1.5"/>
<line x1="220.0" y1="13.049999999999999" x2="220.0" y2="239.3" stroke="#000" stroke-width="1.6"/>
<line x1="69.9" y1="13.85" x2="220.8" y2="13.85" stroke="#000" stroke-width="1.5"/>
<line x1="69.9" y1="88.6" x2="220.8" y2="88.6" stroke="#000" stroke-width="1.5"/>
<line x1="69.9" y1="163.5" x2="220.8" y2="163.5" stroke="#000" stroke-width="1.5"/>
<line x1="69.9" y1="238.5" x2="220.8" y2="238.5" stroke="#000" stroke-width="1.5"/>
<line x1="258.1" y1="13.049999999999999" x2="258.1" y2="239.3" stroke="#000" stroke-width="1.6"/>
<line x1="332.2" y1="13.85" x2="332.2" y2="238.5" stroke="#000" stroke-width="1.5"/>
<line x1="406.8" y1="13.049999999999999" x2="406.8" y2="239.3" stroke="#000" stroke-width="1.6"/>
<line x1="257.3" y1="13.85" x2="407.6" y2="13.85" stroke="#000" stroke-width="1.5"/>
<line x1="257.3" y1="88.6" x2="407.6" y2="88.6" stroke="#000" stroke-width="1.5"/>
<line x1="257.3" y1="163.5" x2="407.6" y2="163.5" stroke="#000" stroke-width="1.5"/>
<line x1="257.3" y1="238.5" x2="407.6" y2="238.5" stroke="#000" stroke-width="1.5"/>
<clipPath id="c1"><rect x="70.7" y="13.85" width="74.3" height="75"/></clipPath>
<g clip-path="url(#c1)">
<rect x="72.10" y="69.60" width="4.60" height="4.60" fill="#e01020" stroke="#601010" stroke-width="0.8"/>
<rect x="72.10" y="80.60" width="4.60" height="4.60" fill="#3535c0" stroke="#141460" stroke-width="0.8"/>
<text x="80.40" y="73.50" font-size="9.75" textLength="40.67" lengthAdjust="spacingAndGlyphs" text-anchor="start" >nil - 2437</text>
<text x="80.40" y="83.90" font-size="9.75" textLength="63.36" lengthAdjust="spacingAndGlyphs" text-anchor="start" >peptide - 6042</text>
</g>
<clipPath id="c2"><rect x="145.6" y="13.85" width="73.80000000000001" height="75"/></clipPath>
<g clip-path="url(#c2)">
<rect x="147.60" y="68.70" width="4.60" height="4.60" fill="#e01020" stroke="#601010" stroke-width="0.8"/>
<rect x="147.60" y="80.00" width="4.60" height="4.60" fill="#3535c0" stroke="#141460" stroke-width="0.8"/>
<text x="154.80" y="73.20" font-size="9.75" textLength="40.67" lengthAdjust="spacingAndGlyphs" text-anchor="start" >nil - 1640</text>
<text x="154.80" y="83.90" font-size="9.75" textLength="60.72" lengthAdjust="spacingAndGlyphs" text-anchor="start" >peptide- 4031</text>
</g>
<clipPath id="c3"><rect x="70.7" y="88.6" width="74.3" height="75"/></clipPath>
<g clip-path="url(#c3)">
<rect x="71.80" y="145.60" width="4.60" height="4.60" fill="#e01020" stroke="#601010" stroke-width="0.8"/>
<rect x="71.80" y="154.50" width="4.60" height="4.60" fill="#3535c0" stroke="#141460" stroke-width="0.8"/>
<text x="77.20" y="150.70" font-size="9.75" textLength="40.67" lengthAdjust="spacingAndGlyphs" text-anchor="start" >nil - 2718</text>
<text x="77.20" y="159.80" font-size="9.75" textLength="66.00" lengthAdjust="spacingAndGlyphs" text-anchor="start" >peptide -10366</text>
</g>
<clipPath id="c4"><rect x="145.6" y="88.6" width="73.80000000000001" height="75"/></clipPath>
<g clip-path="url(#c4)">
<rect x="147.70" y="146.40" width="4.60" height="4.60" fill="#e01020" stroke="#601010" stroke-width="0.8"/>
<rect x="147.70" y="154.80" width="4.60" height="4.60" fill="#3535c0" stroke="#141460" stroke-width="0.8"/>
<text x="154.50" y="151.30" font-size="9.75" textLength="40.67" lengthAdjust="spacingAndGlyphs" text-anchor="start" >nil - 2425</text>
<text x="154.50" y="159.30" font-size="9.75" textLength="63.36" lengthAdjust="spacingAndGlyphs" text-anchor="start" >peptide - 6852</text>
</g>
<clipPath id="c5"><rect x="70.7" y="163.5" width="74.3" height="75"/></clipPath>
<g clip-path="url(#c5)">
<rect x="72.20" y="220.40" width="4.60" height="4.60" fill="#e01020" stroke="#601010" stroke-width="0.8"/>
<rect x="72.20" y="228.20" width="4.60" height="4.60" fill="#3535c0" stroke="#141460" stroke-width="0.8"/>
<text x="80.30" y="225.20" font-size="9.75" textLength="40.67" lengthAdjust="spacingAndGlyphs" text-anchor="start" >nil - 3172</text>
<text x="80.30" y="233.20" font-size="9.75" textLength="63.36" lengthAdjust="spacingAndGlyphs" text-anchor="start" >peptide - 8657</text>
</g>
<clipPath id="c6"><rect x="145.6" y="163.5" width="73.80000000000001" height="75"/></clipPath>
<g clip-path="url(#c6)">
<rect x="147.70" y="220.20" width="4.60" height="4.60" fill="#e01020" stroke="#601010" stroke-width="0.8"/>
<rect x="147.70" y="228.20" width="4.60" height="4.60" fill="#3535c0" stroke="#141460" stroke-width="0.8"/>
<text x="154.50" y="225.20" font-size="9.75" textLength="40.67" lengthAdjust="spacingAndGlyphs" text-anchor="start" >nil - 2460</text>
<text x="154.50" y="232.90" font-size="9.75" textLength="63.36" lengthAdjust="spacingAndGlyphs" text-anchor="start" >peptide - 5803</text>
</g>
<clipPath id="c7"><rect x="258.1" y="13.85" width="73.49999999999997" height="75"/></clipPath>
<g clip-path="url(#c7)">
<rect x="261.70" y="69.00" width="4.60" height="4.60" fill="#e01020" stroke="#601010" stroke-width="0.8"/>
<rect x="261.70" y="77.70" width="4.60" height="4.60" fill="#3535c0" stroke="#141460" stroke-width="0.8"/>
<text x="268.80" y="73.50" font-size="9.75" textLength="40.67" lengthAdjust="spacingAndGlyphs" text-anchor="start" >nil - 2368</text>
<text x="268.80" y="82.50" font-size="9.75" textLength="63.36" lengthAdjust="spacingAndGlyphs" text-anchor="start" >peptide - 3307</text>
</g>
<clipPath id="c8"><rect x="332.2" y="13.85" width="74.00000000000003" height="75"/></clipPath>
<g clip-path="url(#c8)">
<rect x="336.40" y="69.60" width="4.60" height="4.60" fill="#e01020" stroke="#601010" stroke-width="0.8"/>
<rect x="336.40" y="77.70" width="4.60" height="4.60" fill="#3535c0" stroke="#141460" stroke-width="0.8"/>
<text x="344.10" y="74.20" font-size="9.75" textLength="40.67" lengthAdjust="spacingAndGlyphs" text-anchor="start" >nil - 2227</text>
<text x="344.10" y="83.00" font-size="9.75" textLength="63.36" lengthAdjust="spacingAndGlyphs" text-anchor="start" >peptide - 3448</text>
</g>
<clipPath id="c9"><rect x="258.1" y="88.6" width="73.49999999999997" height="75"/></clipPath>
<g clip-path="url(#c9)">
<rect x="261.60" y="145.90" width="4.60" height="4.60" fill="#e01020" stroke="#601010" stroke-width="0.8"/>
<rect x="261.60" y="154.40" width="4.60" height="4.60" fill="#3535c0" stroke="#141460" stroke-width="0.8"/>
<text x="268.50" y="150.60" font-size="9.75" textLength="40.67" lengthAdjust="spacingAndGlyphs" text-anchor="start" >nil - 1550</text>
<text x="268.50" y="159.80" font-size="9.75" textLength="63.36" lengthAdjust="spacingAndGlyphs" text-anchor="start" >peptide - 3150</text>
</g>
<clipPath id="c10"><rect x="332.2" y="88.6" width="74.00000000000003" height="75"/></clipPath>
<g clip-path="url(#c10)">
<rect x="336.40" y="145.90" width="4.60" height="4.60" fill="#e01020" stroke="#601010" stroke-width="0.8"/>
<rect x="336.40" y="154.00" width="4.60" height="4.60" fill="#3535c0" stroke="#141460" stroke-width="0.8"/>
<text x="344.00" y="150.70" font-size="9.75" textLength="40.67" lengthAdjust="spacingAndGlyphs" text-anchor="start" >nil - 1963</text>
<text x="344.00" y="158.50" font-size="9.75" textLength="63.36" lengthAdjust="spacingAndGlyphs" text-anchor="start" >peptide - 4146</text>
</g>
<clipPath id="c11"><rect x="258.1" y="163.5" width="73.49999999999997" height="75"/></clipPath>
<g clip-path="url(#c11)">
<rect x="261.40" y="218.70" width="4.60" height="4.60" fill="#e01020" stroke="#601010" stroke-width="0.8"/>
<rect x="261.40" y="228.50" width="4.60" height="4.60" fill="#3535c0" stroke="#141460" stroke-width="0.8"/>
<text x="268.80" y="223.50" font-size="9.75" textLength="40.67" lengthAdjust="spacingAndGlyphs" text-anchor="start" >nil - 2166</text>
<text x="268.80" y="232.50" font-size="9.75" textLength="63.36" lengthAdjust="spacingAndGlyphs" text-anchor="start" >peptide - 2127</text>
</g>
<clipPath id="c12"><rect x="332.2" y="163.5" width="74.00000000000003" height="75"/></clipPath>
<g clip-path="url(#c12)">
<rect x="336.40" y="219.30" width="4.60" height="4.60" fill="#e01020" stroke="#601010" stroke-width="0.8"/>
<rect x="336.40" y="228.80" width="4.60" height="4.60" fill="#3535c0" stroke="#141460" stroke-width="0.8"/>
<text x="344.00" y="223.80" font-size="9.75" textLength="40.67" lengthAdjust="spacingAndGlyphs" text-anchor="start" >nil - 2281</text>
<text x="344.00" y="233.00" font-size="9.75" textLength="63.36" lengthAdjust="spacingAndGlyphs" text-anchor="start" >peptide - 2979</text>
</g>
<line x1="232" y1="217.5" x2="232" y2="249.35" stroke="#000" stroke-width="1.7"/>
<line x1="232.85" y1="248.5" x2="142" y2="248.5" stroke="#000" stroke-width="1.7"/>
<polyline points="228.1,223.6 232,217.4 235.9,223.6" fill="none" stroke="#000" stroke-width="1.6"/>
<polyline points="148.3,244.9 141.9,248.5 148.3,252.1" fill="none" stroke="#000" stroke-width="1.6"/>
<line x1="419.5" y1="217.5" x2="419.5" y2="250.2" stroke="#000" stroke-width="1.7"/>
<line x1="420.3" y1="249.4" x2="329.5" y2="249.4" stroke="#000" stroke-width="1.7"/>
<polyline points="415.6,223.79999999999998 419.5,217.6 423.4,223.79999999999998" fill="none" stroke="#000" stroke-width="1.6"/>
<polyline points="335.40000000000003,245.8 329.0,249.4 335.40000000000003,253.0" fill="none" stroke="#000" stroke-width="1.6"/>
<rect x="75.30" y="286.90" width="13.40" height="86.50" fill="#ee0a0a" stroke="#000" stroke-width="1.2"/>
<rect x="88.70" y="280.20" width="13.50" height="93.20" fill="#3434dc" stroke="#000" stroke-width="1.2"/>
<rect x="121.10" y="290.90" width="13.40" height="82.50" fill="#ee0a0a" stroke="#000" stroke-width="1.2"/>
<rect x="134.50" y="279.20" width="13.70" height="94.20" fill="#3434dc" stroke="#000" stroke-width="1.2"/>
<rect x="167.30" y="282.00" width="13.40" height="91.40" fill="#ee0a0a" stroke="#000" stroke-width="1.2"/>
<rect x="180.70" y="280.20" width="13.40" height="93.20" fill="#3434dc" stroke="#000" stroke-width="1.2"/>
<rect x="64.5" y="279.2" width="145.65" height="94.19999999999999" fill="none" stroke="#000" stroke-width="1.6"/>
<line x1="60.8" y1="373.4" x2="64.5" y2="373.4" stroke="#000" stroke-width="1.3"/>
<text x="60.50" y="377.20" font-size="9.8" textLength="5.00" lengthAdjust="spacingAndGlyphs" text-anchor="end" >0</text>
<line x1="60.8" y1="354.56" x2="64.5" y2="354.56" stroke="#000" stroke-width="1.3"/>
<text x="60.50" y="358.36" font-size="9.8" textLength="9.90" lengthAdjust="spacingAndGlyphs" text-anchor="end" >20</text>
<line x1="60.8" y1="335.71999999999997" x2="64.5" y2="335.71999999999997" stroke="#000" stroke-width="1.3"/>
<text x="60.50" y="339.52" font-size="9.8" textLength="9.90" lengthAdjust="spacingAndGlyphs" text-anchor="end" >40</text>
<line x1="60.8" y1="316.88" x2="64.5" y2="316.88" stroke="#000" stroke-width="1.3"/>
<text x="60.50" y="320.68" font-size="9.8" textLength="9.90" lengthAdjust="spacingAndGlyphs" text-anchor="end" >60</text>
<line x1="60.8" y1="298.03999999999996" x2="64.5" y2="298.03999999999996" stroke="#000" stroke-width="1.3"/>
<text x="60.50" y="301.84" font-size="9.8" textLength="9.90" lengthAdjust="spacingAndGlyphs" text-anchor="end" >80</text>
<line x1="60.8" y1="279.2" x2="64.5" y2="279.2" stroke="#000" stroke-width="1.3"/>
<text x="60.50" y="283.00" font-size="9.8" textLength="14.90" lengthAdjust="spacingAndGlyphs" text-anchor="end" >100</text>
<rect x="269.80" y="353.30" width="14.40" height="19.60" fill="#ee0a0a" stroke="#000" stroke-width="1.2"/>
<rect x="284.20" y="284.00" width="14.50" height="88.90" fill="#3434dc" stroke="#000" stroke-width="1.2"/>
<rect x="318.00" y="304.40" width="14.00" height="68.50" fill="#ee0a0a" stroke="#000" stroke-width="1.2"/>
<rect x="332.00" y="287.20" width="14.70" height="85.70" fill="#3434dc" stroke="#000" stroke-width="1.2"/>
<rect x="366.40" y="308.70" width="14.10" height="64.20" fill="#ee0a0a" stroke="#000" stroke-width="1.2"/>
<rect x="380.50" y="286.00" width="15.10" height="86.90" fill="#3434dc" stroke="#000" stroke-width="1.2"/>
<rect x="261.5" y="278.4" width="145.5" height="94.5" fill="none" stroke="#000" stroke-width="1.6"/>
<line x1="257.90000000000003" y1="372.9" x2="261.5" y2="372.9" stroke="#000" stroke-width="1.3"/>
<text x="257.60" y="376.70" font-size="9.8" textLength="5.00" lengthAdjust="spacingAndGlyphs" text-anchor="end" >0</text>
<line x1="257.90000000000003" y1="354.0" x2="261.5" y2="354.0" stroke="#000" stroke-width="1.3"/>
<text x="257.60" y="357.80" font-size="9.8" textLength="9.90" lengthAdjust="spacingAndGlyphs" text-anchor="end" >20</text>
<line x1="257.90000000000003" y1="335.09999999999997" x2="261.5" y2="335.09999999999997" stroke="#000" stroke-width="1.3"/>
<text x="257.60" y="338.90" font-size="9.8" textLength="9.90" lengthAdjust="spacingAndGlyphs" text-anchor="end" >40</text>
<line x1="257.90000000000003" y1="316.2" x2="261.5" y2="316.2" stroke="#000" stroke-width="1.3"/>
<text x="257.60" y="320.00" font-size="9.8" textLength="9.90" lengthAdjust="spacingAndGlyphs" text-anchor="end" >60</text>
<line x1="257.90000000000003" y1="297.29999999999995" x2="261.5" y2="297.29999999999995" stroke="#000" stroke-width="1.3"/>
<text x="257.60" y="301.10" font-size="9.8" textLength="9.90" lengthAdjust="spacingAndGlyphs" text-anchor="end" >80</text>
<line x1="257.90000000000003" y1="278.4" x2="261.5" y2="278.4" stroke="#000" stroke-width="1.3"/>
<text x="257.60" y="282.20" font-size="9.8" textLength="14.90" lengthAdjust="spacingAndGlyphs" text-anchor="end" >100</text>
<rect x="75.50" y="452.20" width="12.50" height="39.10" fill="#ee0a0a" stroke="#000" stroke-width="1.2"/>
<rect x="88.00" y="409.20" width="13.30" height="82.10" fill="#3434dc" stroke="#000" stroke-width="1.2"/>
<rect x="121.10" y="424.10" width="12.50" height="67.20" fill="#ee0a0a" stroke="#000" stroke-width="1.2"/>
<rect x="133.60" y="396.80" width="12.80" height="94.50" fill="#3434dc" stroke="#000" stroke-width="1.2"/>
<rect x="166.40" y="400.30" width="12.80" height="91.00" fill="#ee0a0a" stroke="#000" stroke-width="1.2"/>
<rect x="179.20" y="396.80" width="12.80" height="94.50" fill="#3434dc" stroke="#000" stroke-width="1.2"/>
<rect x="63.8" y="396.8" width="145.2" height="94.5" fill="none" stroke="#000" stroke-width="1.6"/>
<line x1="60.3" y1="491.3" x2="63.8" y2="491.3" stroke="#000" stroke-width="1.3"/>
<text x="60.00" y="495.10" font-size="9.8" textLength="5.00" lengthAdjust="spacingAndGlyphs" text-anchor="end" >0</text>
<line x1="60.3" y1="472.40000000000003" x2="63.8" y2="472.40000000000003" stroke="#000" stroke-width="1.3"/>
<text x="60.00" y="476.20" font-size="9.8" textLength="9.90" lengthAdjust="spacingAndGlyphs" text-anchor="end" >20</text>
<line x1="60.3" y1="453.5" x2="63.8" y2="453.5" stroke="#000" stroke-width="1.3"/>
<text x="60.00" y="457.30" font-size="9.8" textLength="9.90" lengthAdjust="spacingAndGlyphs" text-anchor="end" >40</text>
<line x1="60.3" y1="434.6" x2="63.8" y2="434.6" stroke="#000" stroke-width="1.3"/>
<text x="60.00" y="438.40" font-size="9.8" textLength="9.90" lengthAdjust="spacingAndGlyphs" text-anchor="end" >60</text>
<line x1="60.3" y1="415.70000000000005" x2="63.8" y2="415.70000000000005" stroke="#000" stroke-width="1.3"/>
<text x="60.00" y="419.50" font-size="9.8" textLength="9.90" lengthAdjust="spacingAndGlyphs" text-anchor="end" >80</text>
<line x1="60.3" y1="396.8" x2="63.8" y2="396.8" stroke="#000" stroke-width="1.3"/>
<text x="60.00" y="400.60" font-size="9.8" textLength="14.90" lengthAdjust="spacingAndGlyphs" text-anchor="end" >100</text>
<rect x="271.90" y="473.30" width="12.90" height="18.30" fill="#ee0a0a" stroke="#000" stroke-width="1.2"/>
<rect x="284.80" y="418.20" width="13.90" height="73.40" fill="#3434dc" stroke="#000" stroke-width="1.2"/>
<rect x="318.70" y="430.50" width="13.30" height="61.10" fill="#ee0a0a" stroke="#000" stroke-width="1.2"/>
<rect x="332.00" y="403.50" width="14.40" height="88.10" fill="#3434dc" stroke="#000" stroke-width="1.2"/>
<rect x="366.40" y="431.80" width="13.20" height="59.80" fill="#ee0a0a" stroke="#000" stroke-width="1.2"/>
<rect x="379.60" y="415.20" width="13.90" height="76.40" fill="#3434dc" stroke="#000" stroke-width="1.2"/>
<rect x="261.5" y="397.2" width="145.5" height="94.40000000000003" fill="none" stroke="#000" stroke-width="1.6"/>
<line x1="257.7" y1="491.6" x2="261.5" y2="491.6" stroke="#000" stroke-width="1.3"/>
<text x="257.40" y="496.00" font-size="9.8" textLength="5.00" lengthAdjust="spacingAndGlyphs" text-anchor="end" >0</text>
<line x1="257.7" y1="472.72" x2="261.5" y2="472.72" stroke="#000" stroke-width="1.3"/>
<text x="257.40" y="477.12" font-size="9.8" textLength="9.90" lengthAdjust="spacingAndGlyphs" text-anchor="end" >20</text>
<line x1="257.7" y1="453.84000000000003" x2="261.5" y2="453.84000000000003" stroke="#000" stroke-width="1.3"/>
<text x="257.40" y="458.24" font-size="9.8" textLength="9.90" lengthAdjust="spacingAndGlyphs" text-anchor="end" >40</text>
<line x1="257.7" y1="434.96000000000004" x2="261.5" y2="434.96000000000004" stroke="#000" stroke-width="1.3"/>
<text x="257.40" y="439.36" font-size="9.8" textLength="9.90" lengthAdjust="spacingAndGlyphs" text-anchor="end" >60</text>
<line x1="257.7" y1="416.08" x2="261.5" y2="416.08" stroke="#000" stroke-width="1.3"/>
<text x="257.40" y="420.48" font-size="9.8" textLength="9.90" lengthAdjust="spacingAndGlyphs" text-anchor="end" >80</text>
<line x1="257.7" y1="397.2" x2="261.5" y2="397.2" stroke="#000" stroke-width="1.3"/>
<text x="257.40" y="401.60" font-size="9.8" textLength="14.90" lengthAdjust="spacingAndGlyphs" text-anchor="end" >100</text>
<rect x="413.20" y="284.40" width="5.00" height="4.80" fill="#c81020" stroke="#501010" stroke-width="0.8"/>
<rect x="413.20" y="295.50" width="5.00" height="4.80" fill="#3030b8" stroke="#141460" stroke-width="0.8"/>
<text x="18.62" y="18.00" font-size="17.4" textLength="12.56" lengthAdjust="spacing" text-anchor="start" >A</text>
<text x="19.13" y="276.00" font-size="17.4" textLength="12.56" lengthAdjust="spacing" text-anchor="start" >B</text>
<text x="100.91" y="12.00" font-size="10.35" textLength="22.79" lengthAdjust="spacingAndGlyphs" text-anchor="start" >VTE</text>
<text x="174.90" y="12.00" font-size="10.35" textLength="22.57" lengthAdjust="spacingAndGlyphs" text-anchor="start" >NLV</text>
<text x="287.82" y="12.00" font-size="10.35" textLength="22.42" lengthAdjust="spacingAndGlyphs" text-anchor="start" >VTE</text>
<text x="361.32" y="12.00" font-size="10.35" textLength="22.61" lengthAdjust="spacingAndGlyphs" text-anchor="start" >NLV</text>
<text x="3.58" y="52.00" font-size="10.6" textLength="65.71" lengthAdjust="spacing" text-anchor="start" >No cytokine</text>
<text x="41.29" y="126.00" font-size="10.5" textLength="27.17" lengthAdjust="spacing" text-anchor="start" >IL-12</text>
<text x="47.87" y="200.00" font-size="10.5" textLength="20.30" lengthAdjust="spacing" text-anchor="start" >IL-2</text>
<text x="80.43" y="254.00" font-size="10.4" textLength="28.13" lengthAdjust="spacingAndGlyphs" text-anchor="start" >CFSE</text>
<text x="80.37" y="266.00" font-size="10.4" textLength="38.23" lengthAdjust="spacing" text-anchor="start" >dilution</text>
<text x="267.84" y="252.00" font-size="10.4" textLength="28.43" lengthAdjust="spacingAndGlyphs" text-anchor="start" >CFSE</text>
<text x="267.84" y="265.00" font-size="10.4" textLength="38.16" lengthAdjust="spacing" text-anchor="start" >dilution</text>
<text x="125.93" y="275.00" font-size="10.35" textLength="22.73" lengthAdjust="spacingAndGlyphs" text-anchor="start" >VTE</text>
<text x="327.40" y="275.00" font-size="10.35" textLength="22.37" lengthAdjust="spacingAndGlyphs" text-anchor="start" >VTE</text>
<text x="124.12" y="395.00" font-size="10.35" textLength="22.99" lengthAdjust="spacingAndGlyphs" text-anchor="start" >NLV</text>
<text x="326.49" y="395.00" font-size="10.35" textLength="22.63" lengthAdjust="spacingAndGlyphs" text-anchor="start" >NLV</text>
<text x="82.44" y="503.00" font-size="10.3" textLength="14.98" lengthAdjust="spacing" text-anchor="start" >No</text>
<text x="66.87" y="516.00" font-size="10.0" textLength="46.02" lengthAdjust="spacing" text-anchor="start" >cytokine</text>
<text x="126.39" y="504.00" font-size="10.3" textLength="26.92" lengthAdjust="spacing" text-anchor="start" >IL-12</text>
<text x="175.65" y="504.00" font-size="10.3" textLength="20.79" lengthAdjust="spacing" text-anchor="start" >IL-2</text>
<text x="279.58" y="503.00" font-size="10.3" textLength="14.70" lengthAdjust="spacing" text-anchor="start" >No</text>
<text x="264.13" y="516.00" font-size="10.0" textLength="45.80" lengthAdjust="spacing" text-anchor="start" >cytokine</text>
<text x="323.65" y="505.00" font-size="10.3" textLength="26.80" lengthAdjust="spacing" text-anchor="start" >IL-12</text>
<text x="372.93" y="505.00" font-size="10.3" textLength="20.71" lengthAdjust="spacing" text-anchor="start" >IL-2</text>
<text x="421.21" y="290.00" font-size="9.3" textLength="67.11" lengthAdjust="spacing" text-anchor="start" >No stimulation</text>
<text x="421.37" y="301.00" font-size="9.3" textLength="71.30" lengthAdjust="spacing" text-anchor="start" >Stimulated with</text>
<text x="421.35" y="313.00" font-size="9.3" textLength="95.40" lengthAdjust="spacing" text-anchor="start" >CMV peptide epitope</text>
<text x="237.06" y="214.57" font-size="10.6" textLength="25.67" lengthAdjust="spacing" text-anchor="start" transform="rotate(-90 237.06 214.57)">T-bet</text>
<text x="424.80" y="214.35" font-size="10.6" textLength="33.53" lengthAdjust="spacing" text-anchor="start" transform="rotate(-90 424.80 214.35)">Eomes</text>
<text x="38.20" y="425.39" font-size="10.9" textLength="85.37" lengthAdjust="spacing" text-anchor="start" transform="rotate(-90 38.20 425.39)">% granzyme B+</text>
<text x="236.90" y="414.59" font-size="11.4" textLength="71.38" lengthAdjust="spacing" text-anchor="start" transform="rotate(-90 236.90 414.59)">% perforin-hi</text>
</svg></body></html>
